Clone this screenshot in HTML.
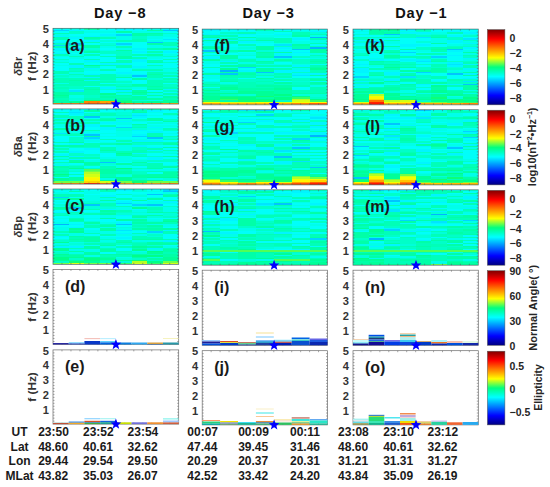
<!DOCTYPE html>
<html><head><meta charset="utf-8"><style>
html,body{margin:0;padding:0;background:#fff;width:550px;height:487px;overflow:hidden;}
body{position:relative;font-family:"Liberation Sans",sans-serif;}
</style></head><body>
<svg width="550" height="487" viewBox="0 0 550 487" style="position:absolute;left:0;top:0;font-family:"Liberation Sans",sans-serif">
<rect width="550" height="487" fill="#fff"/>
<defs><filter id="sb" x="-2%" y="-2%" width="104%" height="104%"><feGaussianBlur stdDeviation="0.3 0.45"/></filter></defs>
<g filter="url(#sb)"><svg x="53.0" y="28.3" width="125.69999999999999" height="75.75" viewBox="0 0 8 50" preserveAspectRatio="none" shape-rendering="crispEdges">
<path fill="#00c4ff" d="M1 10h1v1h-1zM5 31h1v1h-1zM6 9h1v1h-1zM7 1h1v1h-1z"/>
<path fill="#00d4ff" d="M0 1h1v1h-1zM0 11h1v1h-1zM1 13h1v1h-1zM4 4h1v1h-1zM4 10h1v1h-1z"/>
<path fill="#00e5ff" d="M1 41h1v1h-1zM7 7h1v1h-1z"/>
<path fill="#00f5ff" d="M0 5h1v1h-1zM0 9h1v1h-1zM0 13h1v2h-1zM0 16h1v1h-1zM1 1h1v1h-1zM1 6h1v1h-1zM1 24h1v2h-1zM2 5h1v1h-1zM2 8h1v1h-1zM2 21h1v1h-1zM2 26h1v1h-1zM2 30h1v1h-1zM2 32h1v1h-1zM2 34h1v1h-1zM3 4h1v1h-1zM3 23h1v1h-1zM3 39h1v1h-1zM4 0h1v1h-1zM4 11h1v1h-1zM4 23h1v1h-1zM4 29h1v1h-1zM4 41h1v1h-1zM5 0h1v1h-1zM5 13h1v1h-1zM5 15h1v1h-1zM5 20h1v2h-1zM5 25h1v1h-1zM5 30h1v1h-1zM7 0h1v1h-1zM7 15h1v1h-1zM7 40h1v1h-1z"/>
<path fill="#00fff9" d="M0 0h1v1h-1zM0 2h1v1h-1zM0 8h1v1h-1zM0 15h1v1h-1zM0 19h1v1h-1zM0 23h1v1h-1zM0 25h1v3h-1zM1 4h1v1h-1zM1 7h1v1h-1zM1 9h1v1h-1zM1 12h1v1h-1zM1 16h1v1h-1zM1 20h1v3h-1zM1 40h1v1h-1zM2 1h1v1h-1zM2 3h1v2h-1zM2 10h1v1h-1zM2 16h1v1h-1zM2 18h1v2h-1zM2 23h1v1h-1zM2 28h1v2h-1zM2 38h1v1h-1zM3 0h1v2h-1zM3 3h1v1h-1zM3 7h1v1h-1zM3 9h1v1h-1zM3 13h1v1h-1zM3 17h1v1h-1zM3 19h1v3h-1zM3 25h1v2h-1zM3 28h1v2h-1zM3 36h1v1h-1zM3 41h1v2h-1zM4 1h1v1h-1zM4 3h1v1h-1zM4 9h1v1h-1zM4 20h1v1h-1zM4 26h1v3h-1zM4 33h1v1h-1zM5 1h1v1h-1zM5 9h1v4h-1zM5 14h1v1h-1zM5 16h1v1h-1zM5 18h1v1h-1zM5 22h1v3h-1zM5 28h1v2h-1zM5 32h1v1h-1zM5 34h1v3h-1zM5 40h1v1h-1zM6 7h1v1h-1zM6 14h1v1h-1zM6 20h1v1h-1zM6 23h1v1h-1zM6 41h1v1h-1zM7 2h1v1h-1zM7 6h1v1h-1zM7 8h1v1h-1zM7 14h1v1h-1zM7 16h1v1h-1zM7 19h1v1h-1zM7 21h1v1h-1zM7 23h1v3h-1zM7 32h1v1h-1zM7 36h1v1h-1zM7 42h1v1h-1z"/>
<path fill="#00ffe9" d="M0 4h1v1h-1zM0 18h1v1h-1zM0 21h1v1h-1zM0 24h1v1h-1zM0 30h1v1h-1zM0 36h1v1h-1zM1 0h1v1h-1zM1 5h1v1h-1zM1 8h1v1h-1zM1 14h1v2h-1zM1 17h1v1h-1zM1 19h1v1h-1zM1 29h1v1h-1zM1 32h1v1h-1zM1 44h1v2h-1zM1 47h1v1h-1zM2 2h1v1h-1zM2 22h1v1h-1zM2 27h1v1h-1zM3 2h1v1h-1zM3 5h1v1h-1zM3 12h1v1h-1zM3 14h1v1h-1zM3 38h1v1h-1zM4 5h1v3h-1zM4 13h1v1h-1zM4 30h1v1h-1zM4 34h1v1h-1zM4 36h1v1h-1zM4 43h1v1h-1zM5 2h1v1h-1zM5 26h1v1h-1zM5 39h1v1h-1zM5 44h1v1h-1zM6 0h1v1h-1zM6 2h1v1h-1zM6 5h1v2h-1zM6 8h1v1h-1zM6 11h1v2h-1zM6 16h1v1h-1zM6 19h1v1h-1zM6 25h1v2h-1zM6 28h1v1h-1zM6 43h1v1h-1zM6 45h1v1h-1zM6 47h1v1h-1zM7 4h1v2h-1zM7 12h1v1h-1zM7 17h1v1h-1zM7 27h1v2h-1zM7 30h1v1h-1zM7 44h1v1h-1z"/>
<path fill="#00ffd9" d="M0 32h1v1h-1zM1 31h1v1h-1zM1 46h1v1h-1zM2 13h1v1h-1zM3 8h1v1h-1zM3 10h1v1h-1zM3 40h1v1h-1zM4 31h1v1h-1zM4 39h1v1h-1zM5 47h1v1h-1zM6 18h1v1h-1zM6 33h1v1h-1zM7 26h1v1h-1z"/>
<path fill="#00ffc8" d="M0 10h1v1h-1zM0 20h1v1h-1zM0 22h1v1h-1zM0 31h1v1h-1zM0 38h1v1h-1zM0 40h1v2h-1zM1 2h1v2h-1zM1 27h1v1h-1zM1 38h1v2h-1zM2 7h1v1h-1zM2 14h1v1h-1zM2 25h1v1h-1zM2 44h1v2h-1zM3 11h1v1h-1zM3 15h1v2h-1zM3 34h1v1h-1zM4 15h1v3h-1zM4 35h1v1h-1zM4 37h1v1h-1zM5 5h1v2h-1zM7 3h1v1h-1zM7 18h1v1h-1zM7 22h1v1h-1zM7 29h1v1h-1zM7 34h1v1h-1zM7 37h1v2h-1zM7 41h1v1h-1z"/>
<path fill="#00ffb8" d="M0 3h1v1h-1zM0 6h1v2h-1zM0 12h1v1h-1zM0 17h1v1h-1zM0 28h1v2h-1zM0 33h1v3h-1zM0 37h1v1h-1zM0 39h1v1h-1zM0 46h1v1h-1zM1 18h1v1h-1zM1 23h1v1h-1zM1 26h1v1h-1zM1 28h1v1h-1zM1 30h1v1h-1zM1 33h1v1h-1zM1 35h1v3h-1zM1 42h1v2h-1zM2 9h1v1h-1zM2 17h1v1h-1zM2 20h1v1h-1zM2 31h1v1h-1zM2 33h1v1h-1zM2 35h1v3h-1zM2 39h1v1h-1zM2 41h1v3h-1zM2 46h1v1h-1zM3 6h1v1h-1zM3 18h1v1h-1zM3 22h1v1h-1zM3 24h1v1h-1zM3 27h1v1h-1zM3 30h1v4h-1zM3 35h1v1h-1zM3 37h1v1h-1zM3 44h1v1h-1zM3 46h1v1h-1zM4 8h1v1h-1zM4 12h1v1h-1zM4 21h1v2h-1zM4 24h1v2h-1zM4 38h1v1h-1zM4 42h1v1h-1zM4 45h1v1h-1zM5 7h1v2h-1zM5 17h1v1h-1zM5 19h1v1h-1zM5 27h1v1h-1zM5 38h1v1h-1zM6 4h1v1h-1zM6 13h1v1h-1zM6 15h1v1h-1zM6 21h1v1h-1zM6 24h1v1h-1zM6 27h1v1h-1zM6 29h1v1h-1zM6 31h1v2h-1zM6 34h1v4h-1zM6 39h1v1h-1zM7 9h1v3h-1zM7 20h1v1h-1zM7 31h1v1h-1zM7 33h1v1h-1zM7 35h1v1h-1zM7 39h1v1h-1zM7 43h1v1h-1zM7 46h1v1h-1z"/>
<path fill="#00ffa8" d="M0 42h1v2h-1zM0 45h1v1h-1zM0 47h1v2h-1zM1 11h1v1h-1zM1 34h1v1h-1zM2 0h1v1h-1zM2 6h1v1h-1zM2 11h1v2h-1zM2 15h1v1h-1zM2 40h1v1h-1zM3 45h1v1h-1zM4 2h1v1h-1zM4 14h1v1h-1zM4 18h1v2h-1zM4 32h1v1h-1zM4 40h1v1h-1zM4 44h1v1h-1zM4 46h1v1h-1zM5 3h1v2h-1zM5 33h1v1h-1zM5 37h1v1h-1zM5 41h1v1h-1zM5 43h1v1h-1zM5 45h1v2h-1zM5 48h1v1h-1zM6 1h1v1h-1zM6 3h1v1h-1zM6 10h1v1h-1zM6 17h1v1h-1zM6 22h1v1h-1zM6 30h1v1h-1zM6 38h1v1h-1zM6 42h1v1h-1zM6 44h1v1h-1zM6 46h1v1h-1zM7 13h1v1h-1zM7 45h1v1h-1z"/>
<path fill="#00ff98" d="M0 44h1v1h-1zM1 48h1v1h-1zM2 24h1v1h-1zM3 43h1v1h-1zM4 47h1v1h-1zM5 42h1v1h-1zM6 40h1v1h-1zM6 48h1v1h-1zM7 47h1v2h-1z"/>
<path fill="#10ff77" d="M2 47h1v1h-1zM3 47h1v1h-1zM4 48h1v1h-1z"/>
<path fill="#ffa400" d="M3 48h1v1h-1zM7 49h1v1h-1z"/>
<path fill="#ff8400" d="M0 49h1v1h-1zM1 49h1v1h-1zM2 48h1v1h-1zM4 49h1v1h-1zM5 49h1v1h-1zM6 49h1v1h-1z"/>
<path fill="#ff5300" d="M2 49h1v1h-1zM3 49h1v1h-1z"/>
</svg></g>
<rect x="53.0" y="28.3" width="125.69999999999999" height="75.75" fill="none" stroke="#4a6a6a" stroke-width="0.7"/>
<path d="M53.0 31.33h1.5M178.7 31.33h-1.5M53.0 34.36h1.5M178.7 34.36h-1.5M53.0 37.39h1.5M178.7 37.39h-1.5M53.0 40.42h1.5M178.7 40.42h-1.5M53.0 43.45h1.5M178.7 43.45h-1.5M53.0 46.48h1.5M178.7 46.48h-1.5M53.0 49.51h1.5M178.7 49.51h-1.5M53.0 52.54h1.5M178.7 52.54h-1.5M53.0 55.57h1.5M178.7 55.57h-1.5M53.0 58.60h1.5M178.7 58.60h-1.5M53.0 61.63h1.5M178.7 61.63h-1.5M53.0 64.66h1.5M178.7 64.66h-1.5M53.0 67.69h1.5M178.7 67.69h-1.5M53.0 70.72h1.5M178.7 70.72h-1.5M53.0 73.75h1.5M178.7 73.75h-1.5M53.0 76.78h1.5M178.7 76.78h-1.5M53.0 79.81h1.5M178.7 79.81h-1.5M53.0 82.84h1.5M178.7 82.84h-1.5M53.0 85.87h1.5M178.7 85.87h-1.5M53.0 88.90h1.5M178.7 88.90h-1.5M53.0 91.93h1.5M178.7 91.93h-1.5M53.0 94.96h1.5M178.7 94.96h-1.5M53.0 97.99h1.5M178.7 97.99h-1.5M53.0 101.02h1.5M178.7 101.02h-1.5M61.98 28.3v1.5M61.98 104.05v-1.5M70.96 28.3v1.5M70.96 104.05v-1.5M79.94 28.3v1.5M79.94 104.05v-1.5M88.91 28.3v1.5M88.91 104.05v-1.5M97.89 28.3v1.5M97.89 104.05v-1.5M106.87 28.3v1.5M106.87 104.05v-1.5M115.85 28.3v1.5M115.85 104.05v-1.5M124.83 28.3v1.5M124.83 104.05v-1.5M133.81 28.3v1.5M133.81 104.05v-1.5M142.79 28.3v1.5M142.79 104.05v-1.5M151.76 28.3v1.5M151.76 104.05v-1.5M160.74 28.3v1.5M160.74 104.05v-1.5M169.72 28.3v1.5M169.72 104.05v-1.5" stroke="#4a6a6a" stroke-width="0.6" fill="none"/>
<g filter="url(#sb)"><svg x="53.0" y="108.9" width="125.69999999999999" height="75.19999999999999" viewBox="0 0 8 50" preserveAspectRatio="none" shape-rendering="crispEdges">
<path fill="#00c4ff" d="M2 5h1v1h-1zM2 17h1v1h-1zM3 35h1v1h-1zM4 6h1v1h-1zM6 19h1v1h-1z"/>
<path fill="#00d4ff" d="M2 19h1v1h-1zM4 12h1v1h-1zM5 18h1v1h-1z"/>
<path fill="#00e5ff" d="M0 16h1v1h-1zM1 2h1v1h-1zM1 8h1v1h-1zM5 4h1v1h-1z"/>
<path fill="#00f5ff" d="M0 6h1v1h-1zM0 30h1v1h-1zM0 37h1v1h-1zM1 1h1v1h-1zM1 3h1v1h-1zM1 10h1v1h-1zM1 14h1v1h-1zM1 23h1v1h-1zM1 28h1v1h-1zM1 31h1v1h-1zM1 33h1v1h-1zM2 0h1v1h-1zM2 10h1v2h-1zM2 16h1v1h-1zM2 20h1v1h-1zM2 26h1v1h-1zM3 9h1v1h-1zM3 12h1v2h-1zM4 8h1v1h-1zM5 3h1v1h-1zM5 5h1v1h-1zM5 14h1v1h-1zM5 17h1v1h-1zM5 21h1v1h-1zM5 24h1v1h-1zM5 29h1v1h-1zM6 1h1v1h-1zM6 12h1v1h-1zM6 15h1v1h-1zM6 21h1v1h-1zM6 25h1v1h-1zM6 27h1v1h-1zM6 32h1v2h-1z"/>
<path fill="#00fff9" d="M0 0h1v2h-1zM0 3h1v1h-1zM0 12h1v1h-1zM0 18h1v4h-1zM0 23h1v1h-1zM0 29h1v1h-1zM0 34h1v1h-1zM0 45h1v1h-1zM1 0h1v1h-1zM1 4h1v1h-1zM1 12h1v1h-1zM1 18h1v1h-1zM1 26h1v2h-1zM1 36h1v1h-1zM1 42h1v1h-1zM1 44h1v1h-1zM2 2h1v1h-1zM2 6h1v1h-1zM2 12h1v2h-1zM2 22h1v1h-1zM2 27h1v3h-1zM2 33h1v1h-1zM2 38h1v1h-1zM3 1h1v1h-1zM3 10h1v1h-1zM3 14h1v2h-1zM3 17h1v1h-1zM3 19h1v1h-1zM3 21h1v1h-1zM3 24h1v1h-1zM3 29h1v3h-1zM4 11h1v1h-1zM4 19h1v1h-1zM4 35h1v1h-1zM5 0h1v1h-1zM5 6h1v1h-1zM5 9h1v1h-1zM5 15h1v2h-1zM5 19h1v1h-1zM5 32h1v1h-1zM5 38h1v1h-1zM6 3h1v1h-1zM6 5h1v1h-1zM6 8h1v1h-1zM6 10h1v1h-1zM6 14h1v1h-1zM6 20h1v1h-1zM6 24h1v1h-1zM6 29h1v2h-1zM6 35h1v1h-1zM6 42h1v1h-1zM7 1h1v2h-1zM7 5h1v2h-1zM7 10h1v1h-1zM7 12h1v1h-1zM7 15h1v1h-1zM7 17h1v1h-1zM7 21h1v1h-1zM7 24h1v1h-1zM7 26h1v1h-1zM7 30h1v1h-1zM7 32h1v1h-1zM7 35h1v2h-1zM7 39h1v1h-1z"/>
<path fill="#00ffe9" d="M0 8h1v1h-1zM0 10h1v2h-1zM0 14h1v2h-1zM0 25h1v1h-1zM0 27h1v1h-1zM0 32h1v1h-1zM0 36h1v1h-1zM1 15h1v1h-1zM2 8h1v1h-1zM2 15h1v1h-1zM2 21h1v1h-1zM2 34h1v1h-1zM3 0h1v1h-1zM3 5h1v1h-1zM3 8h1v1h-1zM3 16h1v1h-1zM3 18h1v1h-1zM3 22h1v1h-1zM3 32h1v1h-1zM3 37h1v1h-1zM3 46h1v1h-1zM4 1h1v1h-1zM4 7h1v1h-1zM4 9h1v2h-1zM4 15h1v4h-1zM4 20h1v1h-1zM4 22h1v1h-1zM4 24h1v4h-1zM4 31h1v4h-1zM4 37h1v2h-1zM4 44h1v1h-1zM5 8h1v1h-1zM5 20h1v1h-1zM5 33h1v1h-1zM5 40h1v1h-1zM6 2h1v1h-1zM6 4h1v1h-1zM6 11h1v1h-1zM6 13h1v1h-1zM6 40h1v1h-1zM6 46h1v1h-1zM7 4h1v1h-1zM7 9h1v1h-1zM7 11h1v1h-1zM7 16h1v1h-1zM7 28h1v1h-1zM7 37h1v1h-1zM7 40h1v1h-1zM7 47h1v1h-1z"/>
<path fill="#00ffd9" d="M1 13h1v1h-1zM1 37h1v1h-1zM1 40h1v1h-1zM2 31h1v1h-1zM3 2h1v1h-1zM3 36h1v1h-1zM4 2h1v2h-1zM4 5h1v1h-1zM4 13h1v2h-1zM4 43h1v1h-1zM5 13h1v1h-1zM5 34h1v1h-1zM6 9h1v1h-1zM7 19h1v1h-1zM7 29h1v1h-1zM7 46h1v1h-1z"/>
<path fill="#00ffc8" d="M0 17h1v1h-1zM1 7h1v1h-1zM1 16h1v1h-1zM1 19h1v3h-1zM1 25h1v1h-1zM1 29h1v2h-1zM1 41h1v1h-1zM2 3h1v1h-1zM2 25h1v1h-1zM2 30h1v1h-1zM2 39h1v1h-1zM3 28h1v1h-1zM3 33h1v2h-1zM4 4h1v1h-1zM5 7h1v1h-1zM5 11h1v1h-1zM5 23h1v1h-1zM5 25h1v2h-1zM5 30h1v1h-1zM5 36h1v1h-1zM5 39h1v1h-1zM5 41h1v2h-1zM5 46h1v1h-1zM6 23h1v1h-1zM6 28h1v1h-1zM6 31h1v1h-1zM6 34h1v1h-1zM7 7h1v1h-1zM7 14h1v1h-1zM7 33h1v2h-1z"/>
<path fill="#00ffb8" d="M0 2h1v1h-1zM0 4h1v2h-1zM0 7h1v1h-1zM0 9h1v1h-1zM0 22h1v1h-1zM0 26h1v1h-1zM0 28h1v1h-1zM0 33h1v1h-1zM0 35h1v1h-1zM0 39h1v2h-1zM0 42h1v1h-1zM1 5h1v2h-1zM1 11h1v1h-1zM1 17h1v1h-1zM1 32h1v1h-1zM1 38h1v1h-1zM1 43h1v1h-1zM1 47h1v1h-1zM2 4h1v1h-1zM2 7h1v1h-1zM2 9h1v1h-1zM2 14h1v1h-1zM2 23h1v2h-1zM2 32h1v1h-1zM2 37h1v1h-1zM3 3h1v2h-1zM3 6h1v1h-1zM3 11h1v1h-1zM3 20h1v1h-1zM3 23h1v1h-1zM3 25h1v2h-1zM3 38h1v2h-1zM3 43h1v2h-1zM4 21h1v1h-1zM4 28h1v1h-1zM4 40h1v1h-1zM5 1h1v1h-1zM5 12h1v1h-1zM5 22h1v1h-1zM5 27h1v2h-1zM5 31h1v1h-1zM5 37h1v1h-1zM5 43h1v1h-1zM6 0h1v1h-1zM6 16h1v2h-1zM6 22h1v1h-1zM6 26h1v1h-1zM6 36h1v3h-1zM6 41h1v1h-1zM7 3h1v1h-1zM7 13h1v1h-1zM7 18h1v1h-1zM7 20h1v1h-1zM7 22h1v1h-1zM7 27h1v1h-1zM7 41h1v1h-1z"/>
<path fill="#00ffa8" d="M0 13h1v1h-1zM0 24h1v1h-1zM0 31h1v1h-1zM0 38h1v1h-1zM0 41h1v1h-1zM0 44h1v1h-1zM0 47h1v1h-1zM1 9h1v1h-1zM1 22h1v1h-1zM1 24h1v1h-1zM1 34h1v1h-1zM1 45h1v2h-1zM2 1h1v1h-1zM2 18h1v1h-1zM2 35h1v2h-1zM3 7h1v1h-1zM3 27h1v1h-1zM3 40h1v3h-1zM3 45h1v1h-1zM4 0h1v1h-1zM4 23h1v1h-1zM4 30h1v1h-1zM4 36h1v1h-1zM4 41h1v2h-1zM5 2h1v1h-1zM5 10h1v1h-1zM5 35h1v1h-1zM5 44h1v2h-1zM6 6h1v2h-1zM6 18h1v1h-1zM6 39h1v1h-1zM6 43h1v2h-1zM7 0h1v1h-1zM7 8h1v1h-1zM7 23h1v1h-1zM7 25h1v1h-1zM7 31h1v1h-1zM7 38h1v1h-1zM7 42h1v3h-1z"/>
<path fill="#00ff98" d="M0 46h1v1h-1zM1 35h1v1h-1zM1 39h1v1h-1zM3 47h1v1h-1zM4 29h1v1h-1zM4 45h1v3h-1zM5 47h1v1h-1zM6 45h1v1h-1zM6 47h1v1h-1zM7 45h1v1h-1z"/>
<path fill="#00ff88" d="M0 43h1v1h-1zM4 39h1v1h-1z"/>
<path fill="#10ff77" d="M5 48h1v1h-1z"/>
<path fill="#51ff57" d="M2 40h1v1h-1z"/>
<path fill="#71ff47" d="M0 48h1v1h-1zM1 48h1v1h-1zM2 41h1v1h-1zM4 48h1v1h-1zM6 48h1v1h-1zM7 48h1v1h-1z"/>
<path fill="#b2ff26" d="M2 42h1v1h-1z"/>
<path fill="#d2ff16" d="M2 43h1v2h-1zM3 48h1v1h-1z"/>
<path fill="#f3ff06" d="M2 45h1v1h-1z"/>
<path fill="#fff500" d="M2 46h1v2h-1z"/>
<path fill="#ffd500" d="M2 48h1v1h-1z"/>
<path fill="#ffa400" d="M4 49h1v1h-1zM5 49h1v1h-1zM6 49h1v1h-1z"/>
<path fill="#ff8400" d="M0 49h1v1h-1zM1 49h1v1h-1zM7 49h1v1h-1z"/>
<path fill="#ff7300" d="M3 49h1v1h-1z"/>
<path fill="#ff2200" d="M2 49h1v1h-1z"/>
</svg></g>
<rect x="53.0" y="108.9" width="125.69999999999999" height="75.19999999999999" fill="none" stroke="#4a6a6a" stroke-width="0.7"/>
<path d="M53.0 111.91h1.5M178.7 111.91h-1.5M53.0 114.92h1.5M178.7 114.92h-1.5M53.0 117.92h1.5M178.7 117.92h-1.5M53.0 120.93h1.5M178.7 120.93h-1.5M53.0 123.94h1.5M178.7 123.94h-1.5M53.0 126.95h1.5M178.7 126.95h-1.5M53.0 129.96h1.5M178.7 129.96h-1.5M53.0 132.96h1.5M178.7 132.96h-1.5M53.0 135.97h1.5M178.7 135.97h-1.5M53.0 138.98h1.5M178.7 138.98h-1.5M53.0 141.99h1.5M178.7 141.99h-1.5M53.0 145.00h1.5M178.7 145.00h-1.5M53.0 148.00h1.5M178.7 148.00h-1.5M53.0 151.01h1.5M178.7 151.01h-1.5M53.0 154.02h1.5M178.7 154.02h-1.5M53.0 157.03h1.5M178.7 157.03h-1.5M53.0 160.04h1.5M178.7 160.04h-1.5M53.0 163.04h1.5M178.7 163.04h-1.5M53.0 166.05h1.5M178.7 166.05h-1.5M53.0 169.06h1.5M178.7 169.06h-1.5M53.0 172.07h1.5M178.7 172.07h-1.5M53.0 175.08h1.5M178.7 175.08h-1.5M53.0 178.08h1.5M178.7 178.08h-1.5M53.0 181.09h1.5M178.7 181.09h-1.5M61.98 108.9v1.5M61.98 184.1v-1.5M70.96 108.9v1.5M70.96 184.1v-1.5M79.94 108.9v1.5M79.94 184.1v-1.5M88.91 108.9v1.5M88.91 184.1v-1.5M97.89 108.9v1.5M97.89 184.1v-1.5M106.87 108.9v1.5M106.87 184.1v-1.5M115.85 108.9v1.5M115.85 184.1v-1.5M124.83 108.9v1.5M124.83 184.1v-1.5M133.81 108.9v1.5M133.81 184.1v-1.5M142.79 108.9v1.5M142.79 184.1v-1.5M151.76 108.9v1.5M151.76 184.1v-1.5M160.74 108.9v1.5M160.74 184.1v-1.5M169.72 108.9v1.5M169.72 184.1v-1.5" stroke="#4a6a6a" stroke-width="0.6" fill="none"/>
<g filter="url(#sb)"><svg x="53.0" y="189.0" width="125.69999999999999" height="75.39999999999998" viewBox="0 0 8 50" preserveAspectRatio="none" shape-rendering="crispEdges">
<path fill="#00b4ff" d="M0 23h1v1h-1z"/>
<path fill="#00c4ff" d="M1 12h1v1h-1zM2 10h1v1h-1zM4 23h1v1h-1zM6 3h1v1h-1zM6 10h1v1h-1zM7 1h1v1h-1z"/>
<path fill="#00d4ff" d="M0 5h1v1h-1zM4 9h1v1h-1zM5 10h1v1h-1zM6 28h1v1h-1zM7 0h1v1h-1z"/>
<path fill="#00e5ff" d="M4 27h1v1h-1z"/>
<path fill="#00f5ff" d="M0 15h1v1h-1zM0 31h1v1h-1zM0 38h1v1h-1zM1 14h1v1h-1zM1 23h1v1h-1zM1 25h1v1h-1zM1 38h1v1h-1zM3 4h1v1h-1zM3 13h1v1h-1zM4 0h1v1h-1zM4 8h1v1h-1zM4 17h1v1h-1zM4 22h1v1h-1zM4 29h1v1h-1zM4 32h1v1h-1zM6 39h1v1h-1zM7 8h1v1h-1zM7 27h1v1h-1zM7 34h1v1h-1z"/>
<path fill="#00fff9" d="M0 1h1v1h-1zM0 7h1v1h-1zM0 9h1v1h-1zM0 14h1v1h-1zM0 18h1v1h-1zM0 20h1v2h-1zM0 24h1v1h-1zM0 32h1v1h-1zM1 2h1v1h-1zM1 5h1v1h-1zM1 22h1v1h-1zM1 24h1v1h-1zM2 0h1v1h-1zM2 3h1v1h-1zM2 14h1v1h-1zM2 17h1v2h-1zM2 20h1v1h-1zM2 26h1v1h-1zM2 30h1v1h-1zM2 37h1v1h-1zM3 2h1v2h-1zM3 20h1v2h-1zM3 31h1v1h-1zM3 42h1v1h-1zM4 1h1v2h-1zM4 4h1v2h-1zM4 7h1v1h-1zM4 10h1v1h-1zM4 18h1v2h-1zM4 21h1v1h-1zM4 24h1v1h-1zM4 28h1v1h-1zM4 31h1v1h-1zM4 33h1v1h-1zM4 37h1v1h-1zM4 39h1v2h-1zM5 2h1v1h-1zM5 5h1v1h-1zM5 8h1v1h-1zM5 13h1v1h-1zM5 28h1v1h-1zM6 0h1v1h-1zM6 2h1v1h-1zM6 4h1v1h-1zM6 7h1v1h-1zM6 19h1v1h-1zM7 5h1v2h-1zM7 10h1v1h-1zM7 19h1v1h-1zM7 25h1v1h-1zM7 30h1v3h-1zM7 37h1v1h-1z"/>
<path fill="#00ffe9" d="M0 0h1v1h-1zM0 2h1v1h-1zM0 8h1v1h-1zM0 11h1v1h-1zM0 19h1v1h-1zM0 22h1v1h-1zM0 25h1v3h-1zM0 29h1v1h-1zM0 36h1v1h-1zM1 0h1v1h-1zM1 7h1v1h-1zM1 13h1v1h-1zM1 17h1v2h-1zM1 29h1v2h-1zM1 35h1v1h-1zM1 37h1v1h-1zM1 40h1v1h-1zM1 42h1v1h-1zM2 1h1v2h-1zM2 4h1v4h-1zM2 15h1v1h-1zM2 19h1v1h-1zM2 27h1v2h-1zM2 40h1v2h-1zM2 44h1v1h-1zM3 6h1v1h-1zM3 8h1v1h-1zM3 17h1v2h-1zM3 22h1v1h-1zM3 25h1v1h-1zM3 28h1v2h-1zM3 32h1v1h-1zM3 34h1v1h-1zM3 38h1v1h-1zM4 12h1v2h-1zM4 26h1v1h-1zM4 30h1v1h-1zM4 45h1v1h-1zM5 3h1v1h-1zM5 6h1v1h-1zM5 9h1v1h-1zM5 11h1v1h-1zM5 14h1v1h-1zM5 16h1v1h-1zM5 19h1v1h-1zM5 27h1v1h-1zM5 30h1v1h-1zM5 34h1v1h-1zM5 41h1v1h-1zM6 1h1v1h-1zM6 5h1v1h-1zM6 8h1v2h-1zM6 11h1v1h-1zM6 16h1v1h-1zM6 20h1v1h-1zM6 23h1v1h-1zM6 29h1v1h-1zM6 34h1v1h-1zM6 40h1v1h-1zM7 2h1v1h-1zM7 9h1v1h-1zM7 12h1v3h-1zM7 23h1v2h-1zM7 38h1v1h-1z"/>
<path fill="#00ffd9" d="M0 10h1v1h-1zM0 33h1v1h-1zM0 41h1v1h-1zM1 8h1v1h-1zM1 36h1v1h-1zM2 8h1v1h-1zM2 11h1v2h-1zM2 21h1v1h-1zM2 23h1v1h-1zM2 35h1v1h-1zM3 12h1v1h-1zM3 35h1v1h-1zM4 16h1v1h-1zM4 25h1v1h-1zM4 46h1v1h-1zM4 48h1v1h-1zM5 0h1v2h-1zM5 4h1v1h-1zM5 15h1v1h-1zM5 42h1v1h-1zM6 18h1v1h-1zM6 21h1v1h-1zM6 31h1v1h-1zM6 37h1v1h-1zM6 45h1v1h-1zM7 16h1v2h-1z"/>
<path fill="#00ffc8" d="M0 16h1v1h-1zM0 34h1v1h-1zM0 37h1v1h-1zM0 42h1v1h-1zM0 48h1v1h-1zM1 16h1v1h-1zM1 46h1v1h-1zM3 11h1v1h-1zM3 33h1v1h-1zM3 48h1v1h-1zM4 3h1v1h-1zM4 15h1v1h-1zM4 36h1v1h-1zM4 42h1v1h-1zM5 23h1v1h-1zM5 25h1v1h-1zM5 35h1v1h-1zM5 46h1v1h-1zM6 14h1v1h-1zM6 30h1v1h-1zM6 47h1v1h-1zM7 11h1v1h-1zM7 18h1v1h-1z"/>
<path fill="#00ffb8" d="M0 3h1v2h-1zM0 6h1v1h-1zM0 13h1v1h-1zM0 17h1v1h-1zM0 28h1v1h-1zM0 30h1v1h-1zM1 3h1v2h-1zM1 10h1v2h-1zM1 15h1v1h-1zM1 19h1v1h-1zM1 21h1v1h-1zM1 32h1v1h-1zM1 34h1v1h-1zM1 39h1v1h-1zM1 43h1v1h-1zM2 9h1v1h-1zM2 13h1v1h-1zM2 16h1v1h-1zM2 24h1v2h-1zM2 29h1v1h-1zM2 31h1v1h-1zM2 36h1v1h-1zM3 0h1v2h-1zM3 5h1v1h-1zM3 9h1v2h-1zM3 15h1v1h-1zM3 23h1v1h-1zM3 30h1v1h-1zM3 36h1v1h-1zM3 39h1v1h-1zM3 44h1v1h-1zM3 47h1v1h-1zM4 6h1v1h-1zM4 11h1v1h-1zM4 14h1v1h-1zM4 34h1v1h-1zM4 38h1v1h-1zM4 41h1v1h-1zM4 44h1v1h-1zM5 17h1v1h-1zM5 21h1v1h-1zM5 24h1v1h-1zM5 29h1v1h-1zM5 31h1v2h-1zM5 36h1v2h-1zM5 39h1v1h-1zM6 12h1v2h-1zM6 25h1v1h-1zM6 27h1v1h-1zM6 32h1v1h-1zM6 43h1v1h-1zM7 3h1v1h-1zM7 7h1v1h-1zM7 15h1v1h-1zM7 22h1v1h-1zM7 28h1v2h-1zM7 33h1v1h-1zM7 35h1v1h-1zM7 39h1v1h-1zM7 42h1v1h-1z"/>
<path fill="#00ffa8" d="M0 12h1v1h-1zM0 44h1v1h-1zM1 1h1v1h-1zM1 9h1v1h-1zM1 20h1v1h-1zM1 27h1v1h-1zM1 31h1v1h-1zM1 33h1v1h-1zM1 41h1v1h-1zM1 44h1v1h-1zM1 47h1v1h-1zM2 22h1v1h-1zM2 32h1v3h-1zM2 38h1v2h-1zM2 42h1v2h-1zM3 7h1v1h-1zM3 14h1v1h-1zM3 16h1v1h-1zM3 19h1v1h-1zM3 24h1v1h-1zM3 26h1v2h-1zM3 37h1v1h-1zM3 40h1v2h-1zM3 43h1v1h-1zM3 45h1v1h-1zM4 20h1v1h-1zM4 35h1v1h-1zM4 43h1v1h-1zM5 7h1v1h-1zM5 18h1v1h-1zM5 20h1v1h-1zM5 22h1v1h-1zM5 26h1v1h-1zM5 33h1v1h-1zM5 43h1v1h-1zM5 45h1v1h-1zM6 6h1v1h-1zM6 15h1v1h-1zM6 17h1v1h-1zM6 22h1v1h-1zM6 24h1v1h-1zM6 26h1v1h-1zM6 33h1v1h-1zM6 35h1v2h-1zM6 38h1v1h-1zM6 46h1v1h-1zM7 4h1v1h-1zM7 20h1v1h-1zM7 26h1v1h-1zM7 36h1v1h-1zM7 40h1v2h-1zM7 43h1v2h-1z"/>
<path fill="#00ff98" d="M0 35h1v1h-1zM0 39h1v2h-1zM0 43h1v1h-1zM0 47h1v1h-1zM1 6h1v1h-1zM1 26h1v1h-1zM1 28h1v1h-1zM1 45h1v1h-1zM2 45h1v1h-1zM2 48h1v1h-1zM3 46h1v1h-1zM4 47h1v1h-1zM5 12h1v1h-1zM5 38h1v1h-1zM5 40h1v1h-1zM6 42h1v1h-1zM7 21h1v1h-1zM7 45h1v3h-1z"/>
<path fill="#00ff88" d="M0 45h1v2h-1zM2 46h1v2h-1zM5 44h1v1h-1zM6 41h1v1h-1zM6 44h1v1h-1zM6 48h1v1h-1z"/>
<path fill="#10ff77" d="M1 48h1v1h-1zM5 47h1v1h-1z"/>
<path fill="#31ff67" d="M4 49h1v1h-1zM6 49h1v1h-1z"/>
<path fill="#71ff47" d="M0 49h1v1h-1zM2 49h1v1h-1zM3 49h1v1h-1zM7 48h1v1h-1z"/>
<path fill="#b2ff26" d="M5 48h1v1h-1z"/>
<path fill="#d2ff16" d="M1 49h1v1h-1zM5 49h1v1h-1zM7 49h1v1h-1z"/>
</svg></g>
<rect x="53.0" y="189.0" width="125.69999999999999" height="75.39999999999998" fill="none" stroke="#4a6a6a" stroke-width="0.7"/>
<path d="M53.0 192.02h1.5M178.7 192.02h-1.5M53.0 195.03h1.5M178.7 195.03h-1.5M53.0 198.05h1.5M178.7 198.05h-1.5M53.0 201.06h1.5M178.7 201.06h-1.5M53.0 204.08h1.5M178.7 204.08h-1.5M53.0 207.10h1.5M178.7 207.10h-1.5M53.0 210.11h1.5M178.7 210.11h-1.5M53.0 213.13h1.5M178.7 213.13h-1.5M53.0 216.14h1.5M178.7 216.14h-1.5M53.0 219.16h1.5M178.7 219.16h-1.5M53.0 222.18h1.5M178.7 222.18h-1.5M53.0 225.19h1.5M178.7 225.19h-1.5M53.0 228.21h1.5M178.7 228.21h-1.5M53.0 231.22h1.5M178.7 231.22h-1.5M53.0 234.24h1.5M178.7 234.24h-1.5M53.0 237.26h1.5M178.7 237.26h-1.5M53.0 240.27h1.5M178.7 240.27h-1.5M53.0 243.29h1.5M178.7 243.29h-1.5M53.0 246.30h1.5M178.7 246.30h-1.5M53.0 249.32h1.5M178.7 249.32h-1.5M53.0 252.34h1.5M178.7 252.34h-1.5M53.0 255.35h1.5M178.7 255.35h-1.5M53.0 258.37h1.5M178.7 258.37h-1.5M53.0 261.38h1.5M178.7 261.38h-1.5M61.98 189.0v1.5M61.98 264.4v-1.5M70.96 189.0v1.5M70.96 264.4v-1.5M79.94 189.0v1.5M79.94 264.4v-1.5M88.91 189.0v1.5M88.91 264.4v-1.5M97.89 189.0v1.5M97.89 264.4v-1.5M106.87 189.0v1.5M106.87 264.4v-1.5M115.85 189.0v1.5M115.85 264.4v-1.5M124.83 189.0v1.5M124.83 264.4v-1.5M133.81 189.0v1.5M133.81 264.4v-1.5M142.79 189.0v1.5M142.79 264.4v-1.5M151.76 189.0v1.5M151.76 264.4v-1.5M160.74 189.0v1.5M160.74 264.4v-1.5M169.72 189.0v1.5M169.72 264.4v-1.5" stroke="#4a6a6a" stroke-width="0.6" fill="none"/>
<rect x="53.0" y="269.4" width="125.69999999999999" height="75.10000000000002" fill="none" stroke="#6a6a6a" stroke-width="0.7"/>
<path d="M53.0 272.40h1.5M178.7 272.40h-1.5M53.0 275.41h1.5M178.7 275.41h-1.5M53.0 278.41h1.5M178.7 278.41h-1.5M53.0 281.42h1.5M178.7 281.42h-1.5M53.0 284.42h1.5M178.7 284.42h-1.5M53.0 287.42h1.5M178.7 287.42h-1.5M53.0 290.43h1.5M178.7 290.43h-1.5M53.0 293.43h1.5M178.7 293.43h-1.5M53.0 296.44h1.5M178.7 296.44h-1.5M53.0 299.44h1.5M178.7 299.44h-1.5M53.0 302.44h1.5M178.7 302.44h-1.5M53.0 305.45h1.5M178.7 305.45h-1.5M53.0 308.45h1.5M178.7 308.45h-1.5M53.0 311.46h1.5M178.7 311.46h-1.5M53.0 314.46h1.5M178.7 314.46h-1.5M53.0 317.46h1.5M178.7 317.46h-1.5M53.0 320.47h1.5M178.7 320.47h-1.5M53.0 323.47h1.5M178.7 323.47h-1.5M53.0 326.48h1.5M178.7 326.48h-1.5M53.0 329.48h1.5M178.7 329.48h-1.5M53.0 332.48h1.5M178.7 332.48h-1.5M53.0 335.49h1.5M178.7 335.49h-1.5M53.0 338.49h1.5M178.7 338.49h-1.5M53.0 341.50h1.5M178.7 341.50h-1.5M61.98 269.4v1.5M61.98 344.5v-1.5M70.96 269.4v1.5M70.96 344.5v-1.5M79.94 269.4v1.5M79.94 344.5v-1.5M88.91 269.4v1.5M88.91 344.5v-1.5M97.89 269.4v1.5M97.89 344.5v-1.5M106.87 269.4v1.5M106.87 344.5v-1.5M115.85 269.4v1.5M115.85 344.5v-1.5M124.83 269.4v1.5M124.83 344.5v-1.5M133.81 269.4v1.5M133.81 344.5v-1.5M142.79 269.4v1.5M142.79 344.5v-1.5M151.76 269.4v1.5M151.76 344.5v-1.5M160.74 269.4v1.5M160.74 344.5v-1.5M169.72 269.4v1.5M169.72 344.5v-1.5" stroke="#6a6a6a" stroke-width="0.6" fill="none"/>
<rect x="53.0" y="349.9" width="125.69999999999999" height="74.20000000000005" fill="none" stroke="#6a6a6a" stroke-width="0.7"/>
<path d="M53.0 352.87h1.5M178.7 352.87h-1.5M53.0 355.84h1.5M178.7 355.84h-1.5M53.0 358.80h1.5M178.7 358.80h-1.5M53.0 361.77h1.5M178.7 361.77h-1.5M53.0 364.74h1.5M178.7 364.74h-1.5M53.0 367.71h1.5M178.7 367.71h-1.5M53.0 370.68h1.5M178.7 370.68h-1.5M53.0 373.64h1.5M178.7 373.64h-1.5M53.0 376.61h1.5M178.7 376.61h-1.5M53.0 379.58h1.5M178.7 379.58h-1.5M53.0 382.55h1.5M178.7 382.55h-1.5M53.0 385.52h1.5M178.7 385.52h-1.5M53.0 388.48h1.5M178.7 388.48h-1.5M53.0 391.45h1.5M178.7 391.45h-1.5M53.0 394.42h1.5M178.7 394.42h-1.5M53.0 397.39h1.5M178.7 397.39h-1.5M53.0 400.36h1.5M178.7 400.36h-1.5M53.0 403.32h1.5M178.7 403.32h-1.5M53.0 406.29h1.5M178.7 406.29h-1.5M53.0 409.26h1.5M178.7 409.26h-1.5M53.0 412.23h1.5M178.7 412.23h-1.5M53.0 415.20h1.5M178.7 415.20h-1.5M53.0 418.16h1.5M178.7 418.16h-1.5M53.0 421.13h1.5M178.7 421.13h-1.5M61.98 349.9v1.5M61.98 424.1v-1.5M70.96 349.9v1.5M70.96 424.1v-1.5M79.94 349.9v1.5M79.94 424.1v-1.5M88.91 349.9v1.5M88.91 424.1v-1.5M97.89 349.9v1.5M97.89 424.1v-1.5M106.87 349.9v1.5M106.87 424.1v-1.5M115.85 349.9v1.5M115.85 424.1v-1.5M124.83 349.9v1.5M124.83 424.1v-1.5M133.81 349.9v1.5M133.81 424.1v-1.5M142.79 349.9v1.5M142.79 424.1v-1.5M151.76 349.9v1.5M151.76 424.1v-1.5M160.74 349.9v1.5M160.74 424.1v-1.5M169.72 349.9v1.5M169.72 424.1v-1.5" stroke="#6a6a6a" stroke-width="0.6" fill="none"/>
<g filter="url(#sb)"><svg x="202.2" y="29.1" width="125.30000000000001" height="75.75" viewBox="0 0 7 50" preserveAspectRatio="none" shape-rendering="crispEdges">
<path fill="#00b4ff" d="M1 27h1v1h-1zM6 5h1v1h-1zM6 12h1v1h-1z"/>
<path fill="#00c4ff" d="M0 14h1v1h-1zM1 29h1v1h-1zM3 28h1v1h-1zM4 18h1v1h-1zM5 13h1v1h-1z"/>
<path fill="#00d4ff" d="M2 25h1v1h-1z"/>
<path fill="#00e5ff" d="M4 10h1v1h-1zM5 30h1v1h-1z"/>
<path fill="#00f5ff" d="M0 0h1v1h-1zM0 3h1v1h-1zM0 6h1v1h-1zM0 18h1v2h-1zM0 30h1v1h-1zM1 7h1v1h-1zM1 21h1v1h-1zM2 3h1v1h-1zM2 8h1v1h-1zM2 27h1v1h-1zM4 3h1v1h-1zM4 12h1v1h-1zM4 14h1v1h-1zM4 16h1v1h-1zM4 27h1v2h-1zM5 6h1v1h-1zM5 15h1v1h-1zM5 24h1v1h-1zM5 27h1v1h-1zM5 29h1v1h-1zM6 1h1v1h-1zM6 29h1v1h-1z"/>
<path fill="#00fff9" d="M0 1h1v2h-1zM0 9h1v2h-1zM0 16h1v1h-1zM0 23h1v2h-1zM0 26h1v2h-1zM0 33h1v1h-1zM0 38h1v1h-1zM1 0h1v2h-1zM1 10h1v2h-1zM1 16h1v1h-1zM1 23h1v1h-1zM2 0h1v2h-1zM2 4h1v1h-1zM2 9h1v1h-1zM2 15h1v1h-1zM2 18h1v1h-1zM2 26h1v1h-1zM2 32h1v1h-1zM3 3h1v1h-1zM3 9h1v2h-1zM3 25h1v1h-1zM4 0h1v1h-1zM4 2h1v1h-1zM4 5h1v1h-1zM4 13h1v1h-1zM4 22h1v1h-1zM4 25h1v1h-1zM4 34h1v1h-1zM5 0h1v1h-1zM5 5h1v1h-1zM5 7h1v1h-1zM5 14h1v1h-1zM5 16h1v2h-1zM5 19h1v1h-1zM5 31h1v1h-1zM5 38h1v2h-1zM6 0h1v1h-1zM6 10h1v1h-1zM6 23h1v1h-1zM6 31h1v1h-1zM6 34h1v1h-1z"/>
<path fill="#00ffe9" d="M0 8h1v1h-1zM0 13h1v1h-1zM0 21h1v2h-1zM0 28h1v1h-1zM0 31h1v2h-1zM0 34h1v1h-1zM1 3h1v1h-1zM1 5h1v1h-1zM1 12h1v2h-1zM1 25h1v1h-1zM1 35h1v1h-1zM2 6h1v1h-1zM2 11h1v1h-1zM2 13h1v1h-1zM2 16h1v1h-1zM2 19h1v1h-1zM2 22h1v1h-1zM3 1h1v2h-1zM3 4h1v1h-1zM3 8h1v1h-1zM3 19h1v2h-1zM3 23h1v1h-1zM3 31h1v1h-1zM4 4h1v1h-1zM4 9h1v1h-1zM4 17h1v1h-1zM4 19h1v1h-1zM4 23h1v1h-1zM4 32h1v1h-1zM5 1h1v1h-1zM5 8h1v2h-1zM5 23h1v1h-1zM5 26h1v1h-1zM6 4h1v1h-1zM6 7h1v2h-1zM6 16h1v1h-1zM6 19h1v1h-1zM6 37h1v1h-1z"/>
<path fill="#00ffd9" d="M1 15h1v1h-1zM1 20h1v1h-1zM1 40h1v1h-1zM2 12h1v1h-1zM2 17h1v1h-1zM2 43h1v1h-1zM3 5h1v1h-1zM3 14h1v1h-1zM3 29h1v1h-1zM5 34h1v1h-1zM5 43h1v1h-1zM6 2h1v1h-1zM6 18h1v1h-1zM6 43h1v2h-1z"/>
<path fill="#00ffc8" d="M0 17h1v1h-1zM0 35h1v1h-1zM1 2h1v1h-1zM1 32h1v1h-1zM1 36h1v1h-1zM1 41h1v1h-1zM1 43h1v1h-1zM2 7h1v1h-1zM2 33h1v2h-1zM3 6h1v1h-1zM3 33h1v1h-1zM3 35h1v1h-1zM4 11h1v1h-1zM4 21h1v1h-1zM4 30h1v1h-1zM4 36h1v1h-1zM4 47h1v1h-1zM5 18h1v1h-1zM5 20h1v3h-1zM5 28h1v1h-1zM5 32h1v2h-1zM5 35h1v2h-1zM6 45h1v1h-1z"/>
<path fill="#00ffb8" d="M0 4h1v1h-1zM0 11h1v1h-1zM0 15h1v1h-1zM0 25h1v1h-1zM0 37h1v1h-1zM0 39h1v1h-1zM0 41h1v1h-1zM1 4h1v1h-1zM1 6h1v1h-1zM1 9h1v1h-1zM1 14h1v1h-1zM1 22h1v1h-1zM1 31h1v1h-1zM1 33h1v1h-1zM2 2h1v1h-1zM2 10h1v1h-1zM2 20h1v2h-1zM2 23h1v1h-1zM2 28h1v1h-1zM2 30h1v2h-1zM2 35h1v4h-1zM3 0h1v1h-1zM3 16h1v2h-1zM3 22h1v1h-1zM3 24h1v1h-1zM3 30h1v1h-1zM3 34h1v1h-1zM3 36h1v1h-1zM3 38h1v1h-1zM3 40h1v1h-1zM4 1h1v1h-1zM4 6h1v3h-1zM4 24h1v1h-1zM4 26h1v1h-1zM4 29h1v1h-1zM4 31h1v1h-1zM4 33h1v1h-1zM5 2h1v2h-1zM5 11h1v2h-1zM5 25h1v1h-1zM5 37h1v1h-1zM5 40h1v2h-1zM6 3h1v1h-1zM6 6h1v1h-1zM6 9h1v1h-1zM6 11h1v1h-1zM6 17h1v1h-1zM6 20h1v1h-1zM6 22h1v1h-1zM6 24h1v1h-1zM6 27h1v2h-1zM6 32h1v1h-1zM6 36h1v1h-1zM6 38h1v4h-1z"/>
<path fill="#00ffa8" d="M0 5h1v1h-1zM0 7h1v1h-1zM0 12h1v1h-1zM0 20h1v1h-1zM0 29h1v1h-1zM0 36h1v1h-1zM0 43h1v1h-1zM1 8h1v1h-1zM1 17h1v3h-1zM1 24h1v1h-1zM1 28h1v1h-1zM1 30h1v1h-1zM1 34h1v1h-1zM1 37h1v1h-1zM1 47h1v1h-1zM2 5h1v1h-1zM2 14h1v1h-1zM2 24h1v1h-1zM2 29h1v1h-1zM2 39h1v2h-1zM3 7h1v1h-1zM3 11h1v3h-1zM3 15h1v1h-1zM3 18h1v1h-1zM3 21h1v1h-1zM3 26h1v2h-1zM3 32h1v1h-1zM3 37h1v1h-1zM3 39h1v1h-1zM3 45h1v1h-1zM4 15h1v1h-1zM4 20h1v1h-1zM4 35h1v1h-1zM4 37h1v2h-1zM4 40h1v3h-1zM4 44h1v1h-1zM5 4h1v1h-1zM5 10h1v1h-1zM5 42h1v1h-1zM6 13h1v3h-1zM6 21h1v1h-1zM6 25h1v1h-1zM6 30h1v1h-1zM6 33h1v1h-1zM6 35h1v1h-1zM6 42h1v1h-1z"/>
<path fill="#00ff98" d="M0 40h1v1h-1zM0 42h1v1h-1zM0 44h1v3h-1zM1 26h1v1h-1zM1 38h1v2h-1zM1 42h1v1h-1zM1 44h1v1h-1zM2 41h1v2h-1zM2 44h1v1h-1zM3 41h1v3h-1zM4 39h1v1h-1zM6 26h1v1h-1z"/>
<path fill="#00ff88" d="M2 45h1v2h-1zM3 46h1v1h-1zM4 43h1v1h-1zM4 45h1v2h-1zM5 44h1v1h-1zM6 46h1v1h-1z"/>
<path fill="#10ff77" d="M1 45h1v1h-1zM2 47h1v1h-1zM3 44h1v1h-1zM3 47h1v1h-1z"/>
<path fill="#31ff67" d="M0 47h1v1h-1zM1 46h1v1h-1zM5 45h1v1h-1zM6 47h1v1h-1z"/>
<path fill="#b2ff26" d="M5 46h1v1h-1z"/>
<path fill="#d2ff16" d="M1 48h1v1h-1zM2 48h1v1h-1zM4 48h1v1h-1zM5 47h1v1h-1z"/>
<path fill="#f3ff06" d="M0 48h1v1h-1zM3 48h1v1h-1zM5 48h1v1h-1z"/>
<path fill="#fff500" d="M6 48h1v1h-1z"/>
<path fill="#ffb400" d="M1 49h1v1h-1zM2 49h1v1h-1zM3 49h1v1h-1z"/>
<path fill="#ffa400" d="M0 49h1v1h-1zM4 49h1v1h-1z"/>
<path fill="#ff8400" d="M5 49h1v1h-1z"/>
<path fill="#ff6300" d="M6 49h1v1h-1z"/>
</svg></g>
<rect x="202.2" y="29.1" width="125.30000000000001" height="75.75" fill="none" stroke="#4a6a6a" stroke-width="0.7"/>
<path d="M202.2 32.13h1.5M327.5 32.13h-1.5M202.2 35.16h1.5M327.5 35.16h-1.5M202.2 38.19h1.5M327.5 38.19h-1.5M202.2 41.22h1.5M327.5 41.22h-1.5M202.2 44.25h1.5M327.5 44.25h-1.5M202.2 47.28h1.5M327.5 47.28h-1.5M202.2 50.31h1.5M327.5 50.31h-1.5M202.2 53.34h1.5M327.5 53.34h-1.5M202.2 56.37h1.5M327.5 56.37h-1.5M202.2 59.40h1.5M327.5 59.40h-1.5M202.2 62.43h1.5M327.5 62.43h-1.5M202.2 65.46h1.5M327.5 65.46h-1.5M202.2 68.49h1.5M327.5 68.49h-1.5M202.2 71.52h1.5M327.5 71.52h-1.5M202.2 74.55h1.5M327.5 74.55h-1.5M202.2 77.58h1.5M327.5 77.58h-1.5M202.2 80.61h1.5M327.5 80.61h-1.5M202.2 83.64h1.5M327.5 83.64h-1.5M202.2 86.67h1.5M327.5 86.67h-1.5M202.2 89.70h1.5M327.5 89.70h-1.5M202.2 92.73h1.5M327.5 92.73h-1.5M202.2 95.76h1.5M327.5 95.76h-1.5M202.2 98.79h1.5M327.5 98.79h-1.5M202.2 101.82h1.5M327.5 101.82h-1.5M211.15 29.1v1.5M211.15 104.85v-1.5M220.10 29.1v1.5M220.10 104.85v-1.5M229.05 29.1v1.5M229.05 104.85v-1.5M238.00 29.1v1.5M238.00 104.85v-1.5M246.95 29.1v1.5M246.95 104.85v-1.5M255.90 29.1v1.5M255.90 104.85v-1.5M264.85 29.1v1.5M264.85 104.85v-1.5M273.80 29.1v1.5M273.80 104.85v-1.5M282.75 29.1v1.5M282.75 104.85v-1.5M291.70 29.1v1.5M291.70 104.85v-1.5M300.65 29.1v1.5M300.65 104.85v-1.5M309.60 29.1v1.5M309.60 104.85v-1.5M318.55 29.1v1.5M318.55 104.85v-1.5" stroke="#4a6a6a" stroke-width="0.6" fill="none"/>
<g filter="url(#sb)"><svg x="202.2" y="109.7" width="125.30000000000001" height="75.2" viewBox="0 0 7 50" preserveAspectRatio="none" shape-rendering="crispEdges">
<path fill="#00b4ff" d="M6 17h1v1h-1z"/>
<path fill="#00c4ff" d="M4 31h1v1h-1zM5 25h1v1h-1zM6 38h1v1h-1z"/>
<path fill="#00d4ff" d="M1 15h1v1h-1zM2 8h1v1h-1zM3 0h1v1h-1zM3 3h1v1h-1zM5 19h1v1h-1z"/>
<path fill="#00e5ff" d="M2 0h1v1h-1zM4 27h1v1h-1zM5 34h1v1h-1zM6 5h1v1h-1z"/>
<path fill="#00f5ff" d="M0 2h1v1h-1zM0 10h1v1h-1zM0 19h1v1h-1zM1 18h1v1h-1zM2 6h1v1h-1zM2 14h1v1h-1zM2 23h1v1h-1zM2 33h1v1h-1zM3 7h1v1h-1zM3 12h1v2h-1zM3 25h1v2h-1zM4 9h1v1h-1zM4 15h1v1h-1zM4 18h1v1h-1zM4 23h1v1h-1zM4 34h1v2h-1zM5 7h1v1h-1zM5 15h1v1h-1zM5 22h1v1h-1zM5 27h1v1h-1zM6 4h1v1h-1zM6 8h1v2h-1zM6 11h1v1h-1zM6 15h1v2h-1zM6 20h1v1h-1z"/>
<path fill="#00fff9" d="M0 0h1v1h-1zM0 3h1v2h-1zM0 9h1v1h-1zM0 12h1v1h-1zM0 15h1v2h-1zM0 18h1v1h-1zM0 21h1v1h-1zM0 27h1v1h-1zM0 30h1v1h-1zM0 35h1v1h-1zM1 2h1v1h-1zM1 4h1v1h-1zM1 9h1v1h-1zM1 11h1v1h-1zM1 13h1v2h-1zM1 19h1v1h-1zM1 22h1v2h-1zM1 25h1v1h-1zM1 32h1v3h-1zM1 36h1v1h-1zM2 3h1v1h-1zM2 5h1v1h-1zM2 7h1v1h-1zM2 10h1v2h-1zM2 13h1v1h-1zM2 16h1v2h-1zM2 24h1v2h-1zM3 2h1v1h-1zM3 5h1v1h-1zM3 8h1v2h-1zM3 14h1v1h-1zM3 16h1v5h-1zM3 31h1v4h-1zM3 36h1v1h-1zM4 0h1v2h-1zM4 5h1v2h-1zM4 10h1v1h-1zM4 12h1v2h-1zM4 16h1v1h-1zM4 20h1v1h-1zM4 28h1v1h-1zM5 3h1v1h-1zM5 5h1v1h-1zM5 14h1v1h-1zM5 16h1v1h-1zM5 24h1v1h-1zM5 29h1v1h-1zM6 0h1v3h-1zM6 6h1v1h-1zM6 12h1v1h-1zM6 19h1v1h-1zM6 22h1v3h-1zM6 27h1v1h-1zM6 29h1v1h-1zM6 31h1v1h-1zM6 33h1v1h-1zM6 42h1v1h-1z"/>
<path fill="#00ffe9" d="M0 6h1v2h-1zM0 20h1v1h-1zM0 23h1v1h-1zM0 37h1v1h-1zM1 3h1v1h-1zM1 5h1v3h-1zM1 16h1v2h-1zM1 21h1v1h-1zM1 24h1v1h-1zM1 27h1v1h-1zM1 29h1v2h-1zM1 37h1v2h-1zM2 2h1v1h-1zM2 26h1v1h-1zM2 37h1v1h-1zM3 41h1v1h-1zM4 14h1v1h-1zM4 24h1v1h-1zM4 36h1v1h-1zM5 1h1v1h-1zM5 4h1v1h-1zM5 9h1v1h-1zM5 12h1v1h-1zM5 31h1v1h-1zM5 39h1v1h-1zM6 3h1v1h-1zM6 13h1v1h-1zM6 36h1v1h-1z"/>
<path fill="#00ffd9" d="M0 11h1v1h-1zM0 34h1v1h-1zM1 45h1v1h-1zM2 44h1v1h-1zM3 22h1v1h-1zM3 40h1v1h-1zM4 22h1v1h-1zM6 21h1v1h-1z"/>
<path fill="#00ffc8" d="M0 5h1v1h-1zM0 26h1v1h-1zM0 31h1v2h-1zM0 38h1v1h-1zM1 12h1v1h-1zM1 31h1v1h-1zM2 1h1v1h-1zM2 12h1v1h-1zM2 20h1v1h-1zM2 28h1v2h-1zM2 45h1v1h-1zM3 6h1v1h-1zM3 21h1v1h-1zM3 30h1v1h-1zM4 2h1v1h-1zM4 21h1v1h-1zM4 26h1v1h-1zM4 38h1v1h-1zM4 43h1v1h-1zM5 2h1v1h-1zM5 6h1v1h-1zM5 10h1v1h-1zM5 13h1v1h-1zM5 18h1v1h-1zM5 30h1v1h-1zM6 7h1v1h-1zM6 18h1v1h-1zM6 32h1v1h-1zM6 34h1v2h-1zM6 37h1v1h-1z"/>
<path fill="#00ffb8" d="M0 1h1v1h-1zM0 13h1v1h-1zM0 22h1v1h-1zM0 24h1v2h-1zM0 28h1v1h-1zM0 33h1v1h-1zM0 36h1v1h-1zM0 39h1v1h-1zM1 0h1v1h-1zM1 8h1v1h-1zM1 10h1v1h-1zM1 20h1v1h-1zM1 28h1v1h-1zM1 35h1v1h-1zM2 4h1v1h-1zM2 9h1v1h-1zM2 15h1v1h-1zM2 18h1v2h-1zM2 21h1v2h-1zM2 30h1v1h-1zM2 34h1v1h-1zM2 36h1v1h-1zM2 38h1v1h-1zM3 4h1v1h-1zM3 10h1v2h-1zM3 15h1v1h-1zM3 27h1v1h-1zM3 29h1v1h-1zM3 35h1v1h-1zM3 37h1v2h-1zM3 42h1v1h-1zM4 3h1v2h-1zM4 7h1v2h-1zM4 11h1v1h-1zM4 17h1v1h-1zM4 19h1v1h-1zM4 25h1v1h-1zM4 29h1v2h-1zM4 32h1v2h-1zM4 37h1v1h-1zM4 39h1v1h-1zM4 41h1v1h-1zM5 8h1v1h-1zM5 11h1v1h-1zM5 17h1v1h-1zM5 21h1v1h-1zM5 23h1v1h-1zM5 28h1v1h-1zM5 35h1v3h-1zM6 10h1v1h-1zM6 14h1v1h-1zM6 25h1v2h-1zM6 28h1v1h-1zM6 30h1v1h-1zM6 39h1v3h-1z"/>
<path fill="#00ffa8" d="M0 14h1v1h-1zM0 17h1v1h-1zM0 29h1v1h-1zM0 40h1v1h-1zM1 1h1v1h-1zM1 39h1v2h-1zM2 27h1v1h-1zM2 31h1v2h-1zM2 35h1v1h-1zM2 39h1v1h-1zM2 42h1v2h-1zM3 1h1v1h-1zM3 23h1v2h-1zM3 28h1v1h-1zM3 46h1v1h-1zM4 42h1v1h-1zM4 44h1v1h-1zM5 0h1v1h-1zM5 20h1v1h-1zM5 26h1v1h-1zM5 32h1v2h-1zM5 38h1v1h-1zM5 41h1v3h-1zM6 43h1v1h-1z"/>
<path fill="#00ff98" d="M0 8h1v1h-1zM0 42h1v1h-1zM0 45h1v1h-1zM1 26h1v1h-1zM1 41h1v4h-1zM2 40h1v2h-1zM2 47h1v1h-1zM3 39h1v1h-1zM3 43h1v3h-1zM4 40h1v1h-1zM5 40h1v1h-1zM6 44h1v1h-1z"/>
<path fill="#00ff88" d="M0 41h1v1h-1zM0 43h1v2h-1zM1 46h1v1h-1zM2 46h1v1h-1zM4 45h1v2h-1z"/>
<path fill="#10ff77" d="M4 47h1v1h-1z"/>
<path fill="#31ff67" d="M1 47h1v1h-1zM3 47h1v1h-1z"/>
<path fill="#71ff47" d="M0 46h1v1h-1zM2 48h1v1h-1zM5 44h1v1h-1zM6 45h1v1h-1z"/>
<path fill="#b2ff26" d="M5 45h1v1h-1z"/>
<path fill="#d2ff16" d="M4 48h1v1h-1z"/>
<path fill="#f3ff06" d="M0 47h1v1h-1zM1 48h1v1h-1zM5 46h1v1h-1zM6 46h1v1h-1z"/>
<path fill="#fff500" d="M3 48h1v1h-1zM5 47h1v1h-1z"/>
<path fill="#ffd500" d="M0 48h1v1h-1zM6 47h1v1h-1z"/>
<path fill="#ffc400" d="M1 49h1v1h-1z"/>
<path fill="#ffb400" d="M3 49h1v1h-1z"/>
<path fill="#ffa400" d="M5 48h1v1h-1z"/>
<path fill="#ff8400" d="M0 49h1v1h-1zM2 49h1v1h-1zM4 49h1v1h-1z"/>
<path fill="#ff6300" d="M6 48h1v1h-1z"/>
<path fill="#ff5300" d="M5 49h1v1h-1z"/>
<path fill="#ff2200" d="M6 49h1v1h-1z"/>
</svg></g>
<rect x="202.2" y="109.7" width="125.30000000000001" height="75.2" fill="none" stroke="#4a6a6a" stroke-width="0.7"/>
<path d="M202.2 112.71h1.5M327.5 112.71h-1.5M202.2 115.72h1.5M327.5 115.72h-1.5M202.2 118.72h1.5M327.5 118.72h-1.5M202.2 121.73h1.5M327.5 121.73h-1.5M202.2 124.74h1.5M327.5 124.74h-1.5M202.2 127.75h1.5M327.5 127.75h-1.5M202.2 130.76h1.5M327.5 130.76h-1.5M202.2 133.76h1.5M327.5 133.76h-1.5M202.2 136.77h1.5M327.5 136.77h-1.5M202.2 139.78h1.5M327.5 139.78h-1.5M202.2 142.79h1.5M327.5 142.79h-1.5M202.2 145.80h1.5M327.5 145.80h-1.5M202.2 148.80h1.5M327.5 148.80h-1.5M202.2 151.81h1.5M327.5 151.81h-1.5M202.2 154.82h1.5M327.5 154.82h-1.5M202.2 157.83h1.5M327.5 157.83h-1.5M202.2 160.84h1.5M327.5 160.84h-1.5M202.2 163.84h1.5M327.5 163.84h-1.5M202.2 166.85h1.5M327.5 166.85h-1.5M202.2 169.86h1.5M327.5 169.86h-1.5M202.2 172.87h1.5M327.5 172.87h-1.5M202.2 175.88h1.5M327.5 175.88h-1.5M202.2 178.88h1.5M327.5 178.88h-1.5M202.2 181.89h1.5M327.5 181.89h-1.5M211.15 109.7v1.5M211.15 184.9v-1.5M220.10 109.7v1.5M220.10 184.9v-1.5M229.05 109.7v1.5M229.05 184.9v-1.5M238.00 109.7v1.5M238.00 184.9v-1.5M246.95 109.7v1.5M246.95 184.9v-1.5M255.90 109.7v1.5M255.90 184.9v-1.5M264.85 109.7v1.5M264.85 184.9v-1.5M273.80 109.7v1.5M273.80 184.9v-1.5M282.75 109.7v1.5M282.75 184.9v-1.5M291.70 109.7v1.5M291.70 184.9v-1.5M300.65 109.7v1.5M300.65 184.9v-1.5M309.60 109.7v1.5M309.60 184.9v-1.5M318.55 109.7v1.5M318.55 184.9v-1.5" stroke="#4a6a6a" stroke-width="0.6" fill="none"/>
<g filter="url(#sb)"><svg x="202.2" y="189.8" width="125.30000000000001" height="75.39999999999998" viewBox="0 0 7 50" preserveAspectRatio="none" shape-rendering="crispEdges">
<path fill="#00c4ff" d="M0 27h1v1h-1zM4 9h1v1h-1z"/>
<path fill="#00d4ff" d="M2 4h1v1h-1zM6 32h1v1h-1z"/>
<path fill="#00e5ff" d="M3 9h1v1h-1z"/>
<path fill="#00f5ff" d="M0 18h1v1h-1zM0 22h1v1h-1zM1 4h1v1h-1zM1 9h1v2h-1zM1 19h1v2h-1zM1 28h1v1h-1zM2 13h1v1h-1zM2 16h1v1h-1zM3 10h1v1h-1zM3 25h1v1h-1zM4 2h1v1h-1zM4 28h1v1h-1zM5 1h1v1h-1zM5 39h1v1h-1zM6 9h1v1h-1z"/>
<path fill="#00fff9" d="M0 0h1v2h-1zM0 10h1v4h-1zM0 17h1v1h-1zM0 20h1v1h-1zM0 36h1v1h-1zM1 15h1v3h-1zM1 21h1v2h-1zM1 24h1v2h-1zM1 27h1v1h-1zM1 32h1v1h-1zM1 41h1v1h-1zM1 46h1v1h-1zM2 0h1v1h-1zM2 18h1v1h-1zM2 27h1v2h-1zM3 0h1v1h-1zM3 4h1v2h-1zM3 7h1v2h-1zM3 13h1v3h-1zM3 19h1v1h-1zM3 34h1v1h-1zM3 39h1v1h-1zM4 1h1v1h-1zM4 7h1v1h-1zM4 34h1v1h-1zM4 39h1v1h-1zM5 0h1v1h-1zM5 2h1v3h-1zM5 6h1v1h-1zM5 9h1v1h-1zM5 11h1v1h-1zM5 17h1v2h-1zM5 21h1v3h-1zM5 28h1v1h-1zM5 30h1v2h-1zM5 33h1v2h-1zM5 36h1v1h-1zM6 7h1v2h-1zM6 13h1v1h-1zM6 20h1v1h-1zM6 22h1v1h-1zM6 24h1v2h-1zM6 28h1v1h-1zM6 37h1v1h-1z"/>
<path fill="#00ffe9" d="M0 2h1v2h-1zM0 9h1v1h-1zM0 24h1v1h-1zM0 31h1v1h-1zM0 44h1v1h-1zM1 2h1v1h-1zM1 7h1v1h-1zM1 29h1v2h-1zM2 3h1v1h-1zM2 8h1v1h-1zM2 10h1v1h-1zM2 15h1v1h-1zM2 17h1v1h-1zM2 25h1v2h-1zM2 33h1v1h-1zM3 2h1v1h-1zM3 20h1v1h-1zM3 27h1v1h-1zM3 46h1v1h-1zM4 3h1v1h-1zM4 5h1v2h-1zM4 15h1v1h-1zM4 18h1v1h-1zM4 23h1v1h-1zM4 32h1v1h-1zM4 38h1v1h-1zM4 43h1v1h-1zM5 8h1v1h-1zM5 10h1v1h-1zM5 16h1v1h-1zM5 24h1v1h-1zM5 29h1v1h-1zM6 1h1v1h-1zM6 3h1v1h-1zM6 6h1v1h-1zM6 10h1v1h-1zM6 12h1v1h-1zM6 14h1v1h-1zM6 16h1v3h-1zM6 23h1v1h-1zM6 44h1v1h-1z"/>
<path fill="#00ffd9" d="M0 6h1v1h-1zM0 21h1v1h-1zM0 33h1v1h-1zM1 0h1v1h-1zM1 23h1v1h-1zM1 35h1v1h-1zM2 5h1v1h-1zM2 46h1v1h-1zM3 16h1v1h-1zM3 28h1v1h-1zM3 38h1v1h-1zM4 11h1v1h-1zM4 13h1v1h-1zM4 19h1v1h-1zM4 31h1v1h-1zM5 13h1v1h-1zM5 26h1v1h-1zM5 42h1v1h-1z"/>
<path fill="#00ffc8" d="M0 26h1v1h-1zM0 29h1v1h-1zM1 1h1v1h-1zM1 3h1v1h-1zM1 5h1v2h-1zM1 12h1v2h-1zM1 34h1v1h-1zM1 36h1v2h-1zM2 24h1v1h-1zM2 31h1v1h-1zM2 37h1v1h-1zM2 47h1v1h-1zM3 6h1v1h-1zM3 11h1v2h-1zM3 21h1v1h-1zM3 23h1v1h-1zM3 26h1v1h-1zM3 30h1v3h-1zM3 36h1v2h-1zM4 8h1v1h-1zM4 16h1v1h-1zM4 24h1v1h-1zM4 27h1v1h-1zM4 30h1v1h-1zM4 37h1v1h-1zM5 15h1v1h-1zM5 20h1v1h-1zM5 41h1v1h-1zM6 2h1v1h-1zM6 21h1v1h-1zM6 33h1v1h-1zM6 41h1v1h-1zM6 43h1v1h-1z"/>
<path fill="#00ffb8" d="M0 19h1v1h-1zM0 23h1v1h-1zM0 25h1v1h-1zM0 28h1v1h-1zM0 32h1v1h-1zM0 34h1v2h-1zM0 37h1v3h-1zM0 41h1v1h-1zM0 48h1v1h-1zM1 8h1v1h-1zM1 11h1v1h-1zM1 14h1v1h-1zM1 18h1v1h-1zM1 26h1v1h-1zM1 31h1v1h-1zM1 33h1v1h-1zM1 39h1v1h-1zM1 42h1v4h-1zM1 47h1v2h-1zM2 9h1v1h-1zM2 11h1v1h-1zM2 14h1v1h-1zM2 32h1v1h-1zM2 35h1v1h-1zM2 38h1v1h-1zM3 3h1v1h-1zM3 17h1v2h-1zM3 22h1v1h-1zM3 29h1v1h-1zM3 35h1v1h-1zM3 42h1v3h-1zM4 0h1v1h-1zM4 4h1v1h-1zM4 10h1v1h-1zM4 14h1v1h-1zM4 17h1v1h-1zM4 22h1v1h-1zM4 26h1v1h-1zM4 29h1v1h-1zM4 33h1v1h-1zM4 35h1v2h-1zM4 41h1v1h-1zM4 45h1v1h-1zM4 48h1v1h-1zM5 5h1v1h-1zM5 7h1v1h-1zM5 12h1v1h-1zM5 19h1v1h-1zM5 25h1v1h-1zM5 27h1v1h-1zM5 32h1v1h-1zM5 35h1v1h-1zM5 38h1v1h-1zM5 44h1v2h-1zM5 47h1v2h-1zM6 0h1v1h-1zM6 4h1v1h-1zM6 11h1v1h-1zM6 26h1v2h-1zM6 29h1v2h-1zM6 35h1v2h-1zM6 45h1v1h-1z"/>
<path fill="#00ffa8" d="M0 4h1v2h-1zM0 7h1v2h-1zM0 15h1v2h-1zM0 45h1v1h-1zM0 47h1v1h-1zM1 38h1v1h-1zM2 1h1v2h-1zM2 6h1v2h-1zM2 12h1v1h-1zM2 19h1v5h-1zM2 29h1v2h-1zM2 34h1v1h-1zM2 36h1v1h-1zM2 41h1v5h-1zM3 1h1v1h-1zM3 24h1v1h-1zM3 33h1v1h-1zM3 41h1v1h-1zM3 48h1v1h-1zM4 12h1v1h-1zM4 20h1v2h-1zM4 25h1v1h-1zM4 44h1v1h-1zM5 14h1v1h-1zM5 37h1v1h-1zM5 43h1v1h-1zM6 5h1v1h-1zM6 15h1v1h-1zM6 19h1v1h-1zM6 31h1v1h-1zM6 34h1v1h-1zM6 38h1v2h-1zM6 42h1v1h-1zM6 47h1v1h-1z"/>
<path fill="#00ff98" d="M0 14h1v1h-1zM0 30h1v1h-1zM0 42h1v2h-1zM0 49h1v1h-1zM1 49h1v1h-1zM2 39h1v1h-1zM2 48h1v2h-1zM3 45h1v1h-1zM3 47h1v1h-1zM3 49h1v1h-1zM4 42h1v1h-1zM4 47h1v1h-1zM4 49h1v1h-1zM5 49h1v1h-1zM6 46h1v1h-1zM6 48h1v2h-1z"/>
<path fill="#51ff57" d="M0 40h1v1h-1zM0 46h1v1h-1zM1 40h1v1h-1zM2 40h1v1h-1zM3 40h1v1h-1zM4 40h1v1h-1zM4 46h1v1h-1zM5 40h1v1h-1zM5 46h1v1h-1zM6 40h1v1h-1z"/>
</svg></g>
<rect x="202.2" y="189.8" width="125.30000000000001" height="75.39999999999998" fill="none" stroke="#4a6a6a" stroke-width="0.7"/>
<path d="M202.2 192.82h1.5M327.5 192.82h-1.5M202.2 195.83h1.5M327.5 195.83h-1.5M202.2 198.85h1.5M327.5 198.85h-1.5M202.2 201.86h1.5M327.5 201.86h-1.5M202.2 204.88h1.5M327.5 204.88h-1.5M202.2 207.90h1.5M327.5 207.90h-1.5M202.2 210.91h1.5M327.5 210.91h-1.5M202.2 213.93h1.5M327.5 213.93h-1.5M202.2 216.94h1.5M327.5 216.94h-1.5M202.2 219.96h1.5M327.5 219.96h-1.5M202.2 222.98h1.5M327.5 222.98h-1.5M202.2 225.99h1.5M327.5 225.99h-1.5M202.2 229.01h1.5M327.5 229.01h-1.5M202.2 232.02h1.5M327.5 232.02h-1.5M202.2 235.04h1.5M327.5 235.04h-1.5M202.2 238.06h1.5M327.5 238.06h-1.5M202.2 241.07h1.5M327.5 241.07h-1.5M202.2 244.09h1.5M327.5 244.09h-1.5M202.2 247.10h1.5M327.5 247.10h-1.5M202.2 250.12h1.5M327.5 250.12h-1.5M202.2 253.14h1.5M327.5 253.14h-1.5M202.2 256.15h1.5M327.5 256.15h-1.5M202.2 259.17h1.5M327.5 259.17h-1.5M202.2 262.18h1.5M327.5 262.18h-1.5M211.15 189.8v1.5M211.15 265.2v-1.5M220.10 189.8v1.5M220.10 265.2v-1.5M229.05 189.8v1.5M229.05 265.2v-1.5M238.00 189.8v1.5M238.00 265.2v-1.5M246.95 189.8v1.5M246.95 265.2v-1.5M255.90 189.8v1.5M255.90 265.2v-1.5M264.85 189.8v1.5M264.85 265.2v-1.5M273.80 189.8v1.5M273.80 265.2v-1.5M282.75 189.8v1.5M282.75 265.2v-1.5M291.70 189.8v1.5M291.70 265.2v-1.5M300.65 189.8v1.5M300.65 265.2v-1.5M309.60 189.8v1.5M309.60 265.2v-1.5M318.55 189.8v1.5M318.55 265.2v-1.5" stroke="#4a6a6a" stroke-width="0.6" fill="none"/>
<rect x="202.2" y="270.2" width="125.30000000000001" height="75.10000000000002" fill="none" stroke="#6a6a6a" stroke-width="0.7"/>
<path d="M202.2 273.20h1.5M327.5 273.20h-1.5M202.2 276.21h1.5M327.5 276.21h-1.5M202.2 279.21h1.5M327.5 279.21h-1.5M202.2 282.22h1.5M327.5 282.22h-1.5M202.2 285.22h1.5M327.5 285.22h-1.5M202.2 288.22h1.5M327.5 288.22h-1.5M202.2 291.23h1.5M327.5 291.23h-1.5M202.2 294.23h1.5M327.5 294.23h-1.5M202.2 297.24h1.5M327.5 297.24h-1.5M202.2 300.24h1.5M327.5 300.24h-1.5M202.2 303.24h1.5M327.5 303.24h-1.5M202.2 306.25h1.5M327.5 306.25h-1.5M202.2 309.25h1.5M327.5 309.25h-1.5M202.2 312.26h1.5M327.5 312.26h-1.5M202.2 315.26h1.5M327.5 315.26h-1.5M202.2 318.26h1.5M327.5 318.26h-1.5M202.2 321.27h1.5M327.5 321.27h-1.5M202.2 324.27h1.5M327.5 324.27h-1.5M202.2 327.28h1.5M327.5 327.28h-1.5M202.2 330.28h1.5M327.5 330.28h-1.5M202.2 333.28h1.5M327.5 333.28h-1.5M202.2 336.29h1.5M327.5 336.29h-1.5M202.2 339.29h1.5M327.5 339.29h-1.5M202.2 342.30h1.5M327.5 342.30h-1.5M211.15 270.2v1.5M211.15 345.3v-1.5M220.10 270.2v1.5M220.10 345.3v-1.5M229.05 270.2v1.5M229.05 345.3v-1.5M238.00 270.2v1.5M238.00 345.3v-1.5M246.95 270.2v1.5M246.95 345.3v-1.5M255.90 270.2v1.5M255.90 345.3v-1.5M264.85 270.2v1.5M264.85 345.3v-1.5M273.80 270.2v1.5M273.80 345.3v-1.5M282.75 270.2v1.5M282.75 345.3v-1.5M291.70 270.2v1.5M291.70 345.3v-1.5M300.65 270.2v1.5M300.65 345.3v-1.5M309.60 270.2v1.5M309.60 345.3v-1.5M318.55 270.2v1.5M318.55 345.3v-1.5" stroke="#6a6a6a" stroke-width="0.6" fill="none"/>
<rect x="202.2" y="350.7" width="125.30000000000001" height="74.20000000000005" fill="none" stroke="#6a6a6a" stroke-width="0.7"/>
<path d="M202.2 353.67h1.5M327.5 353.67h-1.5M202.2 356.64h1.5M327.5 356.64h-1.5M202.2 359.60h1.5M327.5 359.60h-1.5M202.2 362.57h1.5M327.5 362.57h-1.5M202.2 365.54h1.5M327.5 365.54h-1.5M202.2 368.51h1.5M327.5 368.51h-1.5M202.2 371.48h1.5M327.5 371.48h-1.5M202.2 374.44h1.5M327.5 374.44h-1.5M202.2 377.41h1.5M327.5 377.41h-1.5M202.2 380.38h1.5M327.5 380.38h-1.5M202.2 383.35h1.5M327.5 383.35h-1.5M202.2 386.32h1.5M327.5 386.32h-1.5M202.2 389.28h1.5M327.5 389.28h-1.5M202.2 392.25h1.5M327.5 392.25h-1.5M202.2 395.22h1.5M327.5 395.22h-1.5M202.2 398.19h1.5M327.5 398.19h-1.5M202.2 401.16h1.5M327.5 401.16h-1.5M202.2 404.12h1.5M327.5 404.12h-1.5M202.2 407.09h1.5M327.5 407.09h-1.5M202.2 410.06h1.5M327.5 410.06h-1.5M202.2 413.03h1.5M327.5 413.03h-1.5M202.2 416.00h1.5M327.5 416.00h-1.5M202.2 418.96h1.5M327.5 418.96h-1.5M202.2 421.93h1.5M327.5 421.93h-1.5M211.15 350.7v1.5M211.15 424.90000000000003v-1.5M220.10 350.7v1.5M220.10 424.90000000000003v-1.5M229.05 350.7v1.5M229.05 424.90000000000003v-1.5M238.00 350.7v1.5M238.00 424.90000000000003v-1.5M246.95 350.7v1.5M246.95 424.90000000000003v-1.5M255.90 350.7v1.5M255.90 424.90000000000003v-1.5M264.85 350.7v1.5M264.85 424.90000000000003v-1.5M273.80 350.7v1.5M273.80 424.90000000000003v-1.5M282.75 350.7v1.5M282.75 424.90000000000003v-1.5M291.70 350.7v1.5M291.70 424.90000000000003v-1.5M300.65 350.7v1.5M300.65 424.90000000000003v-1.5M309.60 350.7v1.5M309.60 424.90000000000003v-1.5M318.55 350.7v1.5M318.55 424.90000000000003v-1.5" stroke="#6a6a6a" stroke-width="0.6" fill="none"/>
<g filter="url(#sb)"><svg x="353.0" y="29.1" width="125.30000000000001" height="75.75" viewBox="0 0 8 50" preserveAspectRatio="none" shape-rendering="crispEdges">
<path fill="#00c4ff" d="M1 8h1v1h-1zM2 3h1v1h-1zM6 13h1v1h-1zM6 29h1v1h-1zM7 36h1v1h-1z"/>
<path fill="#00d4ff" d="M0 31h1v1h-1zM3 15h1v1h-1zM4 28h1v1h-1zM5 18h1v1h-1z"/>
<path fill="#00e5ff" d="M3 31h1v1h-1zM4 5h1v1h-1zM4 21h1v1h-1zM6 23h1v1h-1zM7 6h1v1h-1zM7 34h1v1h-1z"/>
<path fill="#00f5ff" d="M0 7h1v1h-1zM0 9h1v1h-1zM0 23h1v1h-1zM0 26h1v3h-1zM0 34h1v1h-1zM0 36h1v1h-1zM0 38h1v1h-1zM1 20h1v1h-1zM2 28h1v2h-1zM2 33h1v1h-1zM3 0h1v1h-1zM3 2h1v1h-1zM3 10h1v2h-1zM3 17h1v1h-1zM3 20h1v1h-1zM4 2h1v1h-1zM4 10h1v1h-1zM4 20h1v1h-1zM4 36h1v1h-1zM6 1h1v1h-1zM6 4h1v1h-1zM6 7h1v2h-1zM6 14h1v1h-1zM6 17h1v1h-1zM6 22h1v1h-1zM6 24h1v1h-1zM6 36h1v1h-1zM7 2h1v1h-1zM7 9h1v1h-1zM7 12h1v1h-1zM7 19h1v1h-1zM7 23h1v1h-1zM7 26h1v1h-1zM7 29h1v1h-1zM7 32h1v1h-1z"/>
<path fill="#00fff9" d="M0 0h1v1h-1zM0 2h1v1h-1zM0 4h1v1h-1zM0 10h1v1h-1zM0 13h1v1h-1zM0 18h1v2h-1zM0 21h1v2h-1zM0 24h1v1h-1zM0 29h1v2h-1zM1 4h1v1h-1zM1 10h1v1h-1zM1 13h1v1h-1zM1 16h1v3h-1zM1 25h1v1h-1zM1 27h1v1h-1zM1 37h1v1h-1zM2 6h1v1h-1zM2 10h1v1h-1zM2 13h1v1h-1zM2 20h1v1h-1zM2 36h1v1h-1zM3 6h1v4h-1zM3 12h1v1h-1zM3 14h1v1h-1zM3 16h1v1h-1zM3 19h1v1h-1zM3 21h1v1h-1zM3 26h1v1h-1zM3 28h1v1h-1zM3 35h1v1h-1zM4 6h1v2h-1zM4 9h1v1h-1zM4 11h1v1h-1zM4 15h1v1h-1zM4 17h1v1h-1zM4 22h1v1h-1zM4 24h1v1h-1zM4 29h1v1h-1zM4 37h1v1h-1zM4 39h1v1h-1zM5 0h1v2h-1zM5 10h1v2h-1zM5 15h1v1h-1zM5 17h1v1h-1zM5 29h1v2h-1zM5 33h1v1h-1zM5 36h1v1h-1zM6 0h1v1h-1zM6 3h1v1h-1zM6 9h1v1h-1zM6 15h1v2h-1zM6 18h1v3h-1zM6 30h1v3h-1zM6 38h1v2h-1zM7 0h1v2h-1zM7 5h1v1h-1zM7 13h1v1h-1zM7 31h1v1h-1z"/>
<path fill="#00ffe9" d="M0 1h1v1h-1zM0 14h1v2h-1zM0 32h1v1h-1zM0 37h1v1h-1zM1 6h1v2h-1zM1 12h1v1h-1zM1 14h1v1h-1zM1 19h1v1h-1zM1 24h1v1h-1zM1 31h1v1h-1zM1 34h1v1h-1zM1 36h1v1h-1zM2 4h1v1h-1zM2 8h1v2h-1zM2 12h1v1h-1zM2 27h1v1h-1zM2 30h1v1h-1zM2 32h1v1h-1zM3 1h1v1h-1zM3 40h1v2h-1zM4 3h1v1h-1zM4 14h1v1h-1zM4 42h1v1h-1zM5 2h1v1h-1zM5 6h1v3h-1zM5 19h1v1h-1zM5 22h1v1h-1zM5 34h1v1h-1zM6 10h1v1h-1zM6 27h1v1h-1zM6 44h1v1h-1zM7 3h1v1h-1zM7 8h1v1h-1zM7 14h1v1h-1zM7 16h1v1h-1zM7 20h1v1h-1zM7 27h1v1h-1zM7 40h1v1h-1zM7 42h1v1h-1z"/>
<path fill="#00ffd9" d="M0 3h1v1h-1zM0 8h1v1h-1zM1 9h1v1h-1zM1 15h1v1h-1zM1 32h1v1h-1zM1 42h1v1h-1zM2 16h1v1h-1zM2 35h1v1h-1zM2 41h1v1h-1zM3 43h1v1h-1zM4 8h1v1h-1zM4 32h1v1h-1zM5 3h1v1h-1zM5 42h1v1h-1zM6 25h1v1h-1zM6 28h1v1h-1zM6 45h1v1h-1zM7 10h1v1h-1z"/>
<path fill="#00ffc8" d="M0 6h1v1h-1zM0 11h1v2h-1zM0 16h1v1h-1zM0 20h1v1h-1zM0 25h1v1h-1zM0 33h1v1h-1zM0 35h1v1h-1zM1 33h1v1h-1zM2 19h1v1h-1zM2 22h1v1h-1zM3 3h1v3h-1zM3 22h1v1h-1zM3 24h1v1h-1zM3 32h1v1h-1zM3 38h1v1h-1zM4 1h1v1h-1zM4 4h1v1h-1zM4 12h1v2h-1zM4 19h1v1h-1zM4 23h1v1h-1zM4 25h1v2h-1zM4 30h1v2h-1zM4 38h1v1h-1zM4 47h1v1h-1zM5 25h1v1h-1zM6 5h1v2h-1zM6 11h1v1h-1zM6 21h1v1h-1zM6 26h1v1h-1zM6 34h1v2h-1zM7 4h1v1h-1zM7 7h1v1h-1zM7 11h1v1h-1zM7 18h1v1h-1zM7 21h1v1h-1zM7 33h1v1h-1zM7 35h1v1h-1z"/>
<path fill="#00ffb8" d="M0 5h1v1h-1zM0 17h1v1h-1zM0 40h1v1h-1zM0 42h1v1h-1zM1 3h1v1h-1zM1 5h1v1h-1zM1 22h1v1h-1zM1 26h1v1h-1zM1 28h1v2h-1zM1 38h1v1h-1zM2 1h1v1h-1zM2 7h1v1h-1zM2 14h1v1h-1zM2 21h1v1h-1zM2 24h1v1h-1zM2 26h1v1h-1zM2 31h1v1h-1zM2 37h1v1h-1zM2 40h1v1h-1zM3 18h1v1h-1zM3 23h1v1h-1zM3 29h1v1h-1zM3 34h1v1h-1zM3 37h1v1h-1zM3 39h1v1h-1zM3 42h1v1h-1zM4 0h1v1h-1zM4 16h1v1h-1zM4 18h1v1h-1zM4 33h1v3h-1zM4 40h1v1h-1zM4 43h1v2h-1zM5 4h1v1h-1zM5 12h1v1h-1zM5 14h1v1h-1zM5 16h1v1h-1zM5 20h1v1h-1zM5 23h1v2h-1zM5 28h1v1h-1zM5 31h1v2h-1zM6 2h1v1h-1zM6 12h1v1h-1zM6 33h1v1h-1zM6 37h1v1h-1zM6 40h1v1h-1zM7 17h1v1h-1zM7 22h1v1h-1zM7 24h1v2h-1zM7 41h1v1h-1z"/>
<path fill="#00ffa8" d="M0 39h1v1h-1zM1 0h1v3h-1zM1 11h1v1h-1zM1 21h1v1h-1zM1 23h1v1h-1zM1 30h1v1h-1zM1 39h1v2h-1zM2 2h1v1h-1zM2 5h1v1h-1zM2 11h1v1h-1zM2 15h1v1h-1zM2 17h1v2h-1zM2 23h1v1h-1zM2 34h1v1h-1zM2 38h1v2h-1zM2 44h1v1h-1zM3 13h1v1h-1zM3 25h1v1h-1zM3 27h1v1h-1zM3 30h1v1h-1zM3 33h1v1h-1zM3 36h1v1h-1zM3 45h1v1h-1zM4 27h1v1h-1zM4 41h1v1h-1zM4 45h1v1h-1zM5 5h1v1h-1zM5 9h1v1h-1zM5 13h1v1h-1zM5 21h1v1h-1zM5 26h1v2h-1zM5 35h1v1h-1zM5 38h1v2h-1zM6 41h1v2h-1zM7 15h1v1h-1zM7 28h1v1h-1zM7 30h1v1h-1zM7 37h1v3h-1zM7 43h1v2h-1z"/>
<path fill="#00ff98" d="M0 41h1v1h-1zM0 43h1v3h-1zM0 47h1v1h-1zM1 35h1v1h-1zM1 41h1v1h-1zM2 0h1v1h-1zM2 25h1v1h-1zM2 42h1v2h-1zM2 45h1v2h-1zM3 44h1v1h-1zM4 46h1v1h-1zM5 37h1v1h-1zM5 40h1v2h-1zM5 43h1v2h-1zM5 46h1v1h-1zM6 43h1v1h-1zM7 46h1v1h-1z"/>
<path fill="#00ff88" d="M0 46h1v1h-1zM3 46h1v1h-1zM5 47h1v1h-1zM6 46h1v1h-1zM7 45h1v1h-1zM7 47h1v1h-1z"/>
<path fill="#10ff77" d="M5 45h1v1h-1zM6 47h1v1h-1z"/>
<path fill="#31ff67" d="M6 48h1v1h-1zM7 48h1v1h-1z"/>
<path fill="#71ff47" d="M4 48h1v1h-1zM5 48h1v1h-1z"/>
<path fill="#b2ff26" d="M1 43h1v1h-1zM2 47h1v1h-1z"/>
<path fill="#d2ff16" d="M0 48h1v1h-1zM3 47h1v1h-1z"/>
<path fill="#f3ff06" d="M1 44h1v1h-1zM2 48h1v1h-1z"/>
<path fill="#fff500" d="M1 45h1v1h-1zM3 48h1v1h-1z"/>
<path fill="#ffd500" d="M1 46h1v1h-1z"/>
<path fill="#ffa400" d="M0 49h1v1h-1zM2 49h1v1h-1zM3 49h1v1h-1zM4 49h1v1h-1zM5 49h1v1h-1zM6 49h1v1h-1z"/>
<path fill="#ff8400" d="M7 49h1v1h-1z"/>
<path fill="#ff7300" d="M1 47h1v1h-1z"/>
<path fill="#ff2200" d="M1 48h1v1h-1z"/>
<path fill="#ff1200" d="M1 49h1v1h-1z"/>
</svg></g>
<rect x="353.0" y="29.1" width="125.30000000000001" height="75.75" fill="none" stroke="#4a6a6a" stroke-width="0.7"/>
<path d="M353.0 32.13h1.5M478.3 32.13h-1.5M353.0 35.16h1.5M478.3 35.16h-1.5M353.0 38.19h1.5M478.3 38.19h-1.5M353.0 41.22h1.5M478.3 41.22h-1.5M353.0 44.25h1.5M478.3 44.25h-1.5M353.0 47.28h1.5M478.3 47.28h-1.5M353.0 50.31h1.5M478.3 50.31h-1.5M353.0 53.34h1.5M478.3 53.34h-1.5M353.0 56.37h1.5M478.3 56.37h-1.5M353.0 59.40h1.5M478.3 59.40h-1.5M353.0 62.43h1.5M478.3 62.43h-1.5M353.0 65.46h1.5M478.3 65.46h-1.5M353.0 68.49h1.5M478.3 68.49h-1.5M353.0 71.52h1.5M478.3 71.52h-1.5M353.0 74.55h1.5M478.3 74.55h-1.5M353.0 77.58h1.5M478.3 77.58h-1.5M353.0 80.61h1.5M478.3 80.61h-1.5M353.0 83.64h1.5M478.3 83.64h-1.5M353.0 86.67h1.5M478.3 86.67h-1.5M353.0 89.70h1.5M478.3 89.70h-1.5M353.0 92.73h1.5M478.3 92.73h-1.5M353.0 95.76h1.5M478.3 95.76h-1.5M353.0 98.79h1.5M478.3 98.79h-1.5M353.0 101.82h1.5M478.3 101.82h-1.5M361.95 29.1v1.5M361.95 104.85v-1.5M370.90 29.1v1.5M370.90 104.85v-1.5M379.85 29.1v1.5M379.85 104.85v-1.5M388.80 29.1v1.5M388.80 104.85v-1.5M397.75 29.1v1.5M397.75 104.85v-1.5M406.70 29.1v1.5M406.70 104.85v-1.5M415.65 29.1v1.5M415.65 104.85v-1.5M424.60 29.1v1.5M424.60 104.85v-1.5M433.55 29.1v1.5M433.55 104.85v-1.5M442.50 29.1v1.5M442.50 104.85v-1.5M451.45 29.1v1.5M451.45 104.85v-1.5M460.40 29.1v1.5M460.40 104.85v-1.5M469.35 29.1v1.5M469.35 104.85v-1.5" stroke="#4a6a6a" stroke-width="0.6" fill="none"/>
<g filter="url(#sb)"><svg x="353.0" y="109.7" width="125.30000000000001" height="75.2" viewBox="0 0 8 50" preserveAspectRatio="none" shape-rendering="crispEdges">
<path fill="#00c4ff" d="M0 24h1v1h-1zM0 45h1v1h-1zM2 9h1v1h-1zM4 0h1v1h-1zM6 25h1v1h-1z"/>
<path fill="#00d4ff" d="M0 30h1v1h-1zM7 14h1v1h-1zM7 18h1v1h-1z"/>
<path fill="#00e5ff" d="M2 17h1v1h-1zM4 5h1v1h-1z"/>
<path fill="#00f5ff" d="M2 3h1v1h-1zM2 5h1v1h-1zM2 11h1v1h-1zM2 13h1v1h-1zM2 19h1v1h-1zM2 24h1v1h-1zM2 26h1v1h-1zM2 28h1v2h-1zM2 37h1v2h-1zM3 5h1v1h-1zM3 10h1v1h-1zM4 2h1v2h-1zM4 17h1v1h-1zM4 22h1v1h-1zM4 24h1v1h-1zM4 26h1v2h-1zM4 35h1v1h-1zM5 12h1v1h-1zM6 9h1v1h-1zM6 24h1v1h-1zM6 29h1v1h-1zM7 7h1v1h-1zM7 15h1v1h-1zM7 20h1v1h-1zM7 23h1v1h-1z"/>
<path fill="#00fff9" d="M0 4h1v1h-1zM0 21h1v1h-1zM0 25h1v2h-1zM0 28h1v1h-1zM0 31h1v1h-1zM1 6h1v1h-1zM1 13h1v2h-1zM1 17h1v1h-1zM1 21h1v1h-1zM1 26h1v1h-1zM1 29h1v1h-1zM2 4h1v1h-1zM2 6h1v1h-1zM2 10h1v1h-1zM2 30h1v1h-1zM2 33h1v1h-1zM2 36h1v1h-1zM2 39h1v2h-1zM3 2h1v1h-1zM3 6h1v1h-1zM3 8h1v1h-1zM3 16h1v1h-1zM3 24h1v2h-1zM3 31h1v1h-1zM3 36h1v1h-1zM3 38h1v1h-1zM4 1h1v1h-1zM4 9h1v1h-1zM4 11h1v1h-1zM4 16h1v1h-1zM4 18h1v1h-1zM4 20h1v1h-1zM4 25h1v1h-1zM4 32h1v3h-1zM4 37h1v1h-1zM4 41h1v1h-1zM5 4h1v1h-1zM5 8h1v1h-1zM5 14h1v1h-1zM5 17h1v1h-1zM5 21h1v1h-1zM5 26h1v1h-1zM5 28h1v1h-1zM5 34h1v1h-1zM6 10h1v1h-1zM6 13h1v2h-1zM6 22h1v1h-1zM6 26h1v1h-1zM7 2h1v2h-1zM7 12h1v1h-1zM7 19h1v1h-1zM7 21h1v1h-1zM7 27h1v6h-1zM7 35h1v1h-1z"/>
<path fill="#00ffe9" d="M0 0h1v1h-1zM0 7h1v1h-1zM0 10h1v3h-1zM0 16h1v2h-1zM0 19h1v1h-1zM0 32h1v1h-1zM0 34h1v1h-1zM1 1h1v1h-1zM1 8h1v2h-1zM1 18h1v1h-1zM1 24h1v1h-1zM1 30h1v1h-1zM1 35h1v1h-1zM1 39h1v1h-1zM2 7h1v2h-1zM2 15h1v1h-1zM2 21h1v1h-1zM2 41h1v1h-1zM3 1h1v1h-1zM3 7h1v1h-1zM3 9h1v1h-1zM3 22h1v2h-1zM3 35h1v1h-1zM4 12h1v2h-1zM4 19h1v1h-1zM4 29h1v1h-1zM4 42h1v1h-1zM5 0h1v2h-1zM5 6h1v2h-1zM5 9h1v1h-1zM5 13h1v1h-1zM5 19h1v1h-1zM5 27h1v1h-1zM5 30h1v1h-1zM5 33h1v1h-1zM5 38h1v1h-1zM6 2h1v3h-1zM6 7h1v2h-1zM6 15h1v1h-1zM6 17h1v2h-1zM6 23h1v1h-1zM6 27h1v1h-1zM6 30h1v1h-1zM6 37h1v1h-1zM7 0h1v1h-1zM7 6h1v1h-1zM7 13h1v1h-1zM7 25h1v1h-1zM7 33h1v1h-1zM7 42h1v2h-1z"/>
<path fill="#00ffd9" d="M0 1h1v1h-1zM0 13h1v1h-1zM0 15h1v1h-1zM0 22h1v2h-1zM0 27h1v1h-1zM0 35h1v1h-1zM1 2h1v1h-1zM1 4h1v2h-1zM1 15h1v1h-1zM1 22h1v2h-1zM1 36h1v1h-1zM1 41h1v1h-1zM2 0h1v1h-1zM2 18h1v1h-1zM2 22h1v1h-1zM3 4h1v1h-1zM3 34h1v1h-1zM4 4h1v1h-1zM4 10h1v1h-1zM4 14h1v1h-1zM4 36h1v1h-1zM4 43h1v1h-1zM5 15h1v2h-1zM5 41h1v1h-1zM5 44h1v1h-1zM6 6h1v1h-1zM6 12h1v1h-1zM6 33h1v1h-1zM7 40h1v1h-1zM7 44h1v1h-1z"/>
<path fill="#00ffc8" d="M0 8h1v1h-1zM0 39h1v1h-1zM2 2h1v1h-1zM2 14h1v1h-1zM2 20h1v1h-1zM2 23h1v1h-1zM2 27h1v1h-1zM2 32h1v1h-1zM2 34h1v1h-1zM3 0h1v1h-1zM3 11h1v1h-1zM3 26h1v2h-1zM3 37h1v1h-1zM4 6h1v2h-1zM4 15h1v1h-1zM4 21h1v1h-1zM4 28h1v1h-1zM4 30h1v2h-1zM4 38h1v1h-1zM5 5h1v1h-1zM5 25h1v1h-1zM6 32h1v1h-1zM6 38h1v1h-1zM6 41h1v1h-1zM7 4h1v1h-1zM7 11h1v1h-1zM7 34h1v1h-1z"/>
<path fill="#00ffb8" d="M0 5h1v1h-1zM0 20h1v1h-1zM0 29h1v1h-1zM0 33h1v1h-1zM1 10h1v2h-1zM1 25h1v1h-1zM1 27h1v1h-1zM1 31h1v1h-1zM1 34h1v1h-1zM2 1h1v1h-1zM2 12h1v1h-1zM2 16h1v1h-1zM2 31h1v1h-1zM2 42h1v1h-1zM3 14h1v2h-1zM3 17h1v2h-1zM3 21h1v1h-1zM3 28h1v1h-1zM3 32h1v2h-1zM4 8h1v1h-1zM4 39h1v1h-1zM5 18h1v1h-1zM5 22h1v1h-1zM5 29h1v1h-1zM5 31h1v2h-1zM5 35h1v3h-1zM5 45h1v1h-1zM6 1h1v1h-1zM6 5h1v1h-1zM6 11h1v1h-1zM6 19h1v1h-1zM6 21h1v1h-1zM6 28h1v1h-1zM6 31h1v1h-1zM6 36h1v1h-1zM6 44h1v1h-1zM6 46h1v1h-1zM7 1h1v1h-1zM7 9h1v2h-1zM7 17h1v1h-1zM7 22h1v1h-1zM7 26h1v1h-1zM7 36h1v2h-1zM7 39h1v1h-1z"/>
<path fill="#00ffa8" d="M0 2h1v2h-1zM0 6h1v1h-1zM0 9h1v1h-1zM0 14h1v1h-1zM0 18h1v1h-1zM0 36h1v1h-1zM0 38h1v1h-1zM0 40h1v1h-1zM0 42h1v1h-1zM1 0h1v1h-1zM1 3h1v1h-1zM1 7h1v1h-1zM1 12h1v1h-1zM1 16h1v1h-1zM1 19h1v2h-1zM1 32h1v2h-1zM1 37h1v2h-1zM2 25h1v1h-1zM2 35h1v1h-1zM3 3h1v1h-1zM3 13h1v1h-1zM3 19h1v2h-1zM3 29h1v2h-1zM3 39h1v3h-1zM4 23h1v1h-1zM4 40h1v1h-1zM4 46h1v1h-1zM5 2h1v2h-1zM5 10h1v2h-1zM5 20h1v1h-1zM5 24h1v1h-1zM5 39h1v2h-1zM5 42h1v1h-1zM6 0h1v1h-1zM6 16h1v1h-1zM6 20h1v1h-1zM6 34h1v2h-1zM6 39h1v1h-1zM6 43h1v1h-1zM7 5h1v1h-1zM7 8h1v1h-1zM7 16h1v1h-1zM7 24h1v1h-1zM7 38h1v1h-1zM7 41h1v1h-1zM7 45h1v1h-1z"/>
<path fill="#00ff98" d="M0 37h1v1h-1zM0 41h1v1h-1zM0 43h1v2h-1zM1 28h1v1h-1zM1 40h1v1h-1zM2 43h1v3h-1zM3 12h1v1h-1zM3 42h1v1h-1zM4 44h1v2h-1zM5 23h1v1h-1zM5 43h1v1h-1zM5 47h1v1h-1zM6 40h1v1h-1zM7 46h1v1h-1z"/>
<path fill="#00ff88" d="M0 46h1v1h-1zM6 42h1v1h-1zM7 47h1v1h-1z"/>
<path fill="#10ff77" d="M0 47h1v1h-1zM4 47h1v1h-1zM5 46h1v1h-1zM6 45h1v1h-1zM6 47h1v1h-1z"/>
<path fill="#31ff67" d="M5 48h1v1h-1zM6 48h1v1h-1z"/>
<path fill="#71ff47" d="M1 42h1v1h-1zM2 46h1v1h-1zM3 43h1v1h-1zM4 48h1v1h-1zM7 48h1v1h-1z"/>
<path fill="#b2ff26" d="M1 43h1v1h-1zM2 47h1v1h-1z"/>
<path fill="#d2ff16" d="M3 44h1v1h-1z"/>
<path fill="#f3ff06" d="M0 48h1v1h-1zM1 44h1v1h-1zM2 48h1v1h-1zM3 45h1v1h-1z"/>
<path fill="#fff500" d="M1 45h1v1h-1zM3 46h1v1h-1z"/>
<path fill="#ffd500" d="M1 46h1v1h-1z"/>
<path fill="#ffc400" d="M3 47h1v1h-1zM5 49h1v1h-1z"/>
<path fill="#ffb400" d="M0 49h1v1h-1zM2 49h1v1h-1zM4 49h1v1h-1zM6 49h1v1h-1zM7 49h1v1h-1z"/>
<path fill="#ffa400" d="M1 47h1v1h-1z"/>
<path fill="#ff8400" d="M3 48h1v1h-1z"/>
<path fill="#ff5300" d="M1 48h1v1h-1zM3 49h1v1h-1z"/>
<path fill="#ff1200" d="M1 49h1v1h-1z"/>
</svg></g>
<rect x="353.0" y="109.7" width="125.30000000000001" height="75.2" fill="none" stroke="#4a6a6a" stroke-width="0.7"/>
<path d="M353.0 112.71h1.5M478.3 112.71h-1.5M353.0 115.72h1.5M478.3 115.72h-1.5M353.0 118.72h1.5M478.3 118.72h-1.5M353.0 121.73h1.5M478.3 121.73h-1.5M353.0 124.74h1.5M478.3 124.74h-1.5M353.0 127.75h1.5M478.3 127.75h-1.5M353.0 130.76h1.5M478.3 130.76h-1.5M353.0 133.76h1.5M478.3 133.76h-1.5M353.0 136.77h1.5M478.3 136.77h-1.5M353.0 139.78h1.5M478.3 139.78h-1.5M353.0 142.79h1.5M478.3 142.79h-1.5M353.0 145.80h1.5M478.3 145.80h-1.5M353.0 148.80h1.5M478.3 148.80h-1.5M353.0 151.81h1.5M478.3 151.81h-1.5M353.0 154.82h1.5M478.3 154.82h-1.5M353.0 157.83h1.5M478.3 157.83h-1.5M353.0 160.84h1.5M478.3 160.84h-1.5M353.0 163.84h1.5M478.3 163.84h-1.5M353.0 166.85h1.5M478.3 166.85h-1.5M353.0 169.86h1.5M478.3 169.86h-1.5M353.0 172.87h1.5M478.3 172.87h-1.5M353.0 175.88h1.5M478.3 175.88h-1.5M353.0 178.88h1.5M478.3 178.88h-1.5M353.0 181.89h1.5M478.3 181.89h-1.5M361.95 109.7v1.5M361.95 184.9v-1.5M370.90 109.7v1.5M370.90 184.9v-1.5M379.85 109.7v1.5M379.85 184.9v-1.5M388.80 109.7v1.5M388.80 184.9v-1.5M397.75 109.7v1.5M397.75 184.9v-1.5M406.70 109.7v1.5M406.70 184.9v-1.5M415.65 109.7v1.5M415.65 184.9v-1.5M424.60 109.7v1.5M424.60 184.9v-1.5M433.55 109.7v1.5M433.55 184.9v-1.5M442.50 109.7v1.5M442.50 184.9v-1.5M451.45 109.7v1.5M451.45 184.9v-1.5M460.40 109.7v1.5M460.40 184.9v-1.5M469.35 109.7v1.5M469.35 184.9v-1.5" stroke="#4a6a6a" stroke-width="0.6" fill="none"/>
<g filter="url(#sb)"><svg x="353.0" y="189.8" width="125.30000000000001" height="75.39999999999998" viewBox="0 0 8 50" preserveAspectRatio="none" shape-rendering="crispEdges">
<path fill="#00b4ff" d="M1 32h1v1h-1zM5 16h1v1h-1z"/>
<path fill="#00c4ff" d="M2 7h1v1h-1z"/>
<path fill="#00d4ff" d="M1 0h1v1h-1zM2 26h1v1h-1zM3 20h1v1h-1zM7 20h1v1h-1z"/>
<path fill="#00e5ff" d="M2 5h1v1h-1zM2 13h1v2h-1zM5 21h1v1h-1z"/>
<path fill="#00f5ff" d="M1 3h1v1h-1zM1 37h1v1h-1zM2 0h1v1h-1zM2 6h1v1h-1zM2 9h1v1h-1zM2 25h1v1h-1zM2 36h1v1h-1zM3 0h1v1h-1zM3 2h1v1h-1zM3 7h1v1h-1zM3 10h1v2h-1zM3 18h1v1h-1zM3 27h1v1h-1zM4 18h1v1h-1zM4 26h1v1h-1zM4 33h1v1h-1zM5 3h1v1h-1zM5 8h1v1h-1zM5 14h1v1h-1zM5 22h1v1h-1zM6 20h1v1h-1zM7 4h1v2h-1zM7 8h1v1h-1zM7 12h1v1h-1z"/>
<path fill="#00fff9" d="M0 5h1v1h-1zM0 10h1v1h-1zM0 15h1v1h-1zM0 27h1v1h-1zM1 14h1v1h-1zM1 18h1v1h-1zM1 24h1v2h-1zM1 34h1v1h-1zM2 1h1v1h-1zM2 4h1v1h-1zM2 8h1v1h-1zM2 11h1v1h-1zM2 20h1v1h-1zM2 31h1v1h-1zM2 43h1v1h-1zM3 16h1v1h-1zM3 19h1v1h-1zM3 22h1v1h-1zM3 30h1v1h-1zM4 4h1v1h-1zM4 6h1v1h-1zM4 9h1v1h-1zM4 14h1v1h-1zM4 22h1v2h-1zM4 25h1v1h-1zM4 28h1v1h-1zM4 32h1v1h-1zM5 6h1v1h-1zM5 9h1v1h-1zM5 12h1v1h-1zM5 23h1v1h-1zM5 26h1v1h-1zM5 31h1v1h-1zM5 42h1v1h-1zM6 2h1v1h-1zM6 9h1v1h-1zM6 13h1v1h-1zM6 16h1v1h-1zM6 23h1v1h-1zM6 35h1v1h-1zM7 1h1v1h-1zM7 10h1v1h-1zM7 16h1v1h-1zM7 30h1v1h-1zM7 32h1v1h-1zM7 34h1v1h-1zM7 36h1v1h-1zM7 39h1v1h-1zM7 43h1v1h-1z"/>
<path fill="#00ffe9" d="M0 3h1v1h-1zM0 18h1v1h-1zM0 22h1v1h-1zM0 26h1v1h-1zM0 36h1v1h-1zM1 5h1v1h-1zM1 8h1v1h-1zM1 12h1v2h-1zM1 15h1v1h-1zM1 31h1v1h-1zM1 35h1v2h-1zM1 38h1v1h-1zM1 45h1v1h-1zM2 44h1v1h-1zM3 13h1v1h-1zM3 26h1v1h-1zM3 39h1v1h-1zM3 44h1v1h-1zM4 7h1v1h-1zM4 10h1v2h-1zM4 17h1v1h-1zM4 21h1v1h-1zM4 29h1v1h-1zM4 42h1v1h-1zM5 4h1v1h-1zM5 7h1v1h-1zM5 18h1v1h-1zM5 47h1v2h-1zM6 0h1v1h-1zM6 3h1v1h-1zM6 5h1v1h-1zM6 10h1v3h-1zM6 22h1v1h-1zM6 32h1v1h-1zM6 41h1v1h-1zM6 43h1v1h-1zM7 3h1v1h-1zM7 6h1v1h-1zM7 11h1v1h-1zM7 15h1v1h-1zM7 21h1v1h-1zM7 23h1v1h-1zM7 46h1v1h-1z"/>
<path fill="#00ffd9" d="M0 1h1v1h-1zM0 16h1v1h-1zM0 43h1v2h-1zM1 1h1v1h-1zM1 6h1v1h-1zM1 21h1v1h-1zM2 12h1v1h-1zM2 32h1v1h-1zM3 36h1v1h-1zM4 19h1v1h-1zM4 27h1v1h-1zM4 30h1v2h-1zM5 15h1v1h-1zM5 17h1v1h-1zM5 25h1v1h-1zM5 28h1v1h-1zM7 42h1v1h-1z"/>
<path fill="#00ffc8" d="M0 2h1v1h-1zM0 32h1v1h-1zM1 17h1v1h-1zM1 29h1v1h-1zM2 2h1v2h-1zM2 18h1v2h-1zM2 24h1v1h-1zM2 30h1v1h-1zM2 34h1v1h-1zM2 39h1v1h-1zM2 41h1v1h-1zM3 6h1v1h-1zM3 14h1v1h-1zM3 25h1v1h-1zM3 29h1v1h-1zM3 32h1v4h-1zM3 38h1v1h-1zM3 45h1v1h-1zM4 13h1v1h-1zM4 16h1v1h-1zM5 13h1v1h-1zM5 32h1v1h-1zM5 34h1v2h-1zM5 38h1v2h-1zM6 25h1v1h-1zM6 30h1v1h-1zM6 37h1v1h-1zM6 46h1v1h-1zM7 0h1v1h-1zM7 14h1v1h-1zM7 25h1v1h-1z"/>
<path fill="#00ffb8" d="M0 6h1v1h-1zM0 9h1v1h-1zM0 11h1v1h-1zM0 13h1v1h-1zM0 21h1v1h-1zM0 24h1v1h-1zM0 33h1v1h-1zM0 41h1v1h-1zM1 7h1v1h-1zM1 10h1v2h-1zM1 16h1v1h-1zM1 19h1v2h-1zM1 22h1v1h-1zM1 39h1v1h-1zM1 41h1v1h-1zM1 43h1v1h-1zM2 10h1v1h-1zM2 15h1v2h-1zM2 21h1v3h-1zM2 27h1v3h-1zM2 33h1v1h-1zM2 37h1v1h-1zM2 42h1v1h-1zM2 45h1v4h-1zM3 1h1v1h-1zM3 4h1v2h-1zM3 8h1v1h-1zM3 12h1v1h-1zM3 17h1v1h-1zM3 23h1v2h-1zM3 28h1v1h-1zM3 31h1v1h-1zM3 37h1v1h-1zM3 41h1v1h-1zM3 47h1v2h-1zM4 1h1v1h-1zM4 3h1v1h-1zM4 5h1v1h-1zM4 8h1v1h-1zM4 15h1v1h-1zM4 35h1v2h-1zM4 38h1v2h-1zM4 41h1v1h-1zM4 45h1v1h-1zM5 0h1v3h-1zM5 5h1v1h-1zM5 10h1v2h-1zM5 19h1v2h-1zM5 24h1v1h-1zM5 27h1v1h-1zM5 29h1v2h-1zM5 36h1v2h-1zM5 41h1v1h-1zM5 43h1v4h-1zM6 4h1v1h-1zM6 6h1v2h-1zM6 14h1v2h-1zM6 17h1v1h-1zM6 19h1v1h-1zM6 21h1v1h-1zM6 26h1v2h-1zM6 29h1v1h-1zM6 31h1v1h-1zM6 38h1v1h-1zM7 9h1v1h-1zM7 13h1v1h-1zM7 19h1v1h-1zM7 24h1v1h-1zM7 27h1v2h-1zM7 31h1v1h-1zM7 33h1v1h-1zM7 35h1v1h-1zM7 38h1v1h-1zM7 47h1v1h-1z"/>
<path fill="#00ffa8" d="M0 0h1v1h-1zM0 4h1v1h-1zM0 7h1v2h-1zM0 12h1v1h-1zM0 14h1v1h-1zM0 17h1v1h-1zM0 19h1v2h-1zM0 23h1v1h-1zM0 28h1v4h-1zM0 34h1v2h-1zM0 37h1v1h-1zM0 39h1v1h-1zM0 47h1v2h-1zM1 2h1v1h-1zM1 4h1v1h-1zM1 9h1v1h-1zM1 23h1v1h-1zM1 28h1v1h-1zM1 44h1v1h-1zM1 47h1v1h-1zM2 17h1v1h-1zM2 35h1v1h-1zM2 38h1v1h-1zM3 3h1v1h-1zM3 9h1v1h-1zM3 15h1v1h-1zM3 21h1v1h-1zM3 42h1v2h-1zM3 46h1v1h-1zM4 0h1v1h-1zM4 2h1v1h-1zM4 12h1v1h-1zM4 20h1v1h-1zM4 24h1v1h-1zM4 34h1v1h-1zM4 37h1v1h-1zM4 44h1v1h-1zM4 46h1v3h-1zM5 33h1v1h-1zM6 1h1v1h-1zM6 8h1v1h-1zM6 18h1v1h-1zM6 24h1v1h-1zM6 28h1v1h-1zM6 33h1v2h-1zM6 36h1v1h-1zM6 39h1v1h-1zM6 42h1v1h-1zM6 44h1v2h-1zM6 47h1v1h-1zM7 2h1v1h-1zM7 7h1v1h-1zM7 17h1v2h-1zM7 22h1v1h-1zM7 26h1v1h-1zM7 29h1v1h-1zM7 37h1v1h-1zM7 41h1v1h-1zM7 44h1v2h-1zM7 48h1v1h-1z"/>
<path fill="#00ff98" d="M0 25h1v1h-1zM0 38h1v1h-1zM0 42h1v1h-1zM0 46h1v1h-1zM0 49h1v1h-1zM1 26h1v2h-1zM1 30h1v1h-1zM1 33h1v1h-1zM1 42h1v1h-1zM1 46h1v1h-1zM1 48h1v2h-1zM2 49h1v1h-1zM3 49h1v1h-1zM4 43h1v1h-1zM4 49h1v1h-1zM6 48h1v2h-1zM7 49h1v1h-1z"/>
<path fill="#00ff88" d="M0 45h1v1h-1z"/>
<path fill="#51ff57" d="M0 40h1v1h-1zM1 40h1v1h-1zM2 40h1v1h-1zM3 40h1v1h-1zM4 40h1v1h-1zM5 40h1v1h-1zM6 40h1v1h-1zM7 40h1v1h-1z"/>
<path fill="#71ff47" d="M5 49h1v1h-1z"/>
</svg></g>
<rect x="353.0" y="189.8" width="125.30000000000001" height="75.39999999999998" fill="none" stroke="#4a6a6a" stroke-width="0.7"/>
<path d="M353.0 192.82h1.5M478.3 192.82h-1.5M353.0 195.83h1.5M478.3 195.83h-1.5M353.0 198.85h1.5M478.3 198.85h-1.5M353.0 201.86h1.5M478.3 201.86h-1.5M353.0 204.88h1.5M478.3 204.88h-1.5M353.0 207.90h1.5M478.3 207.90h-1.5M353.0 210.91h1.5M478.3 210.91h-1.5M353.0 213.93h1.5M478.3 213.93h-1.5M353.0 216.94h1.5M478.3 216.94h-1.5M353.0 219.96h1.5M478.3 219.96h-1.5M353.0 222.98h1.5M478.3 222.98h-1.5M353.0 225.99h1.5M478.3 225.99h-1.5M353.0 229.01h1.5M478.3 229.01h-1.5M353.0 232.02h1.5M478.3 232.02h-1.5M353.0 235.04h1.5M478.3 235.04h-1.5M353.0 238.06h1.5M478.3 238.06h-1.5M353.0 241.07h1.5M478.3 241.07h-1.5M353.0 244.09h1.5M478.3 244.09h-1.5M353.0 247.10h1.5M478.3 247.10h-1.5M353.0 250.12h1.5M478.3 250.12h-1.5M353.0 253.14h1.5M478.3 253.14h-1.5M353.0 256.15h1.5M478.3 256.15h-1.5M353.0 259.17h1.5M478.3 259.17h-1.5M353.0 262.18h1.5M478.3 262.18h-1.5M361.95 189.8v1.5M361.95 265.2v-1.5M370.90 189.8v1.5M370.90 265.2v-1.5M379.85 189.8v1.5M379.85 265.2v-1.5M388.80 189.8v1.5M388.80 265.2v-1.5M397.75 189.8v1.5M397.75 265.2v-1.5M406.70 189.8v1.5M406.70 265.2v-1.5M415.65 189.8v1.5M415.65 265.2v-1.5M424.60 189.8v1.5M424.60 265.2v-1.5M433.55 189.8v1.5M433.55 265.2v-1.5M442.50 189.8v1.5M442.50 265.2v-1.5M451.45 189.8v1.5M451.45 265.2v-1.5M460.40 189.8v1.5M460.40 265.2v-1.5M469.35 189.8v1.5M469.35 265.2v-1.5" stroke="#4a6a6a" stroke-width="0.6" fill="none"/>
<rect x="353.0" y="270.2" width="125.30000000000001" height="75.10000000000002" fill="none" stroke="#6a6a6a" stroke-width="0.7"/>
<path d="M353.0 273.20h1.5M478.3 273.20h-1.5M353.0 276.21h1.5M478.3 276.21h-1.5M353.0 279.21h1.5M478.3 279.21h-1.5M353.0 282.22h1.5M478.3 282.22h-1.5M353.0 285.22h1.5M478.3 285.22h-1.5M353.0 288.22h1.5M478.3 288.22h-1.5M353.0 291.23h1.5M478.3 291.23h-1.5M353.0 294.23h1.5M478.3 294.23h-1.5M353.0 297.24h1.5M478.3 297.24h-1.5M353.0 300.24h1.5M478.3 300.24h-1.5M353.0 303.24h1.5M478.3 303.24h-1.5M353.0 306.25h1.5M478.3 306.25h-1.5M353.0 309.25h1.5M478.3 309.25h-1.5M353.0 312.26h1.5M478.3 312.26h-1.5M353.0 315.26h1.5M478.3 315.26h-1.5M353.0 318.26h1.5M478.3 318.26h-1.5M353.0 321.27h1.5M478.3 321.27h-1.5M353.0 324.27h1.5M478.3 324.27h-1.5M353.0 327.28h1.5M478.3 327.28h-1.5M353.0 330.28h1.5M478.3 330.28h-1.5M353.0 333.28h1.5M478.3 333.28h-1.5M353.0 336.29h1.5M478.3 336.29h-1.5M353.0 339.29h1.5M478.3 339.29h-1.5M353.0 342.30h1.5M478.3 342.30h-1.5M361.95 270.2v1.5M361.95 345.3v-1.5M370.90 270.2v1.5M370.90 345.3v-1.5M379.85 270.2v1.5M379.85 345.3v-1.5M388.80 270.2v1.5M388.80 345.3v-1.5M397.75 270.2v1.5M397.75 345.3v-1.5M406.70 270.2v1.5M406.70 345.3v-1.5M415.65 270.2v1.5M415.65 345.3v-1.5M424.60 270.2v1.5M424.60 345.3v-1.5M433.55 270.2v1.5M433.55 345.3v-1.5M442.50 270.2v1.5M442.50 345.3v-1.5M451.45 270.2v1.5M451.45 345.3v-1.5M460.40 270.2v1.5M460.40 345.3v-1.5M469.35 270.2v1.5M469.35 345.3v-1.5" stroke="#6a6a6a" stroke-width="0.6" fill="none"/>
<rect x="353.0" y="350.7" width="125.30000000000001" height="74.20000000000005" fill="none" stroke="#6a6a6a" stroke-width="0.7"/>
<path d="M353.0 353.67h1.5M478.3 353.67h-1.5M353.0 356.64h1.5M478.3 356.64h-1.5M353.0 359.60h1.5M478.3 359.60h-1.5M353.0 362.57h1.5M478.3 362.57h-1.5M353.0 365.54h1.5M478.3 365.54h-1.5M353.0 368.51h1.5M478.3 368.51h-1.5M353.0 371.48h1.5M478.3 371.48h-1.5M353.0 374.44h1.5M478.3 374.44h-1.5M353.0 377.41h1.5M478.3 377.41h-1.5M353.0 380.38h1.5M478.3 380.38h-1.5M353.0 383.35h1.5M478.3 383.35h-1.5M353.0 386.32h1.5M478.3 386.32h-1.5M353.0 389.28h1.5M478.3 389.28h-1.5M353.0 392.25h1.5M478.3 392.25h-1.5M353.0 395.22h1.5M478.3 395.22h-1.5M353.0 398.19h1.5M478.3 398.19h-1.5M353.0 401.16h1.5M478.3 401.16h-1.5M353.0 404.12h1.5M478.3 404.12h-1.5M353.0 407.09h1.5M478.3 407.09h-1.5M353.0 410.06h1.5M478.3 410.06h-1.5M353.0 413.03h1.5M478.3 413.03h-1.5M353.0 416.00h1.5M478.3 416.00h-1.5M353.0 418.96h1.5M478.3 418.96h-1.5M353.0 421.93h1.5M478.3 421.93h-1.5M361.95 350.7v1.5M361.95 424.90000000000003v-1.5M370.90 350.7v1.5M370.90 424.90000000000003v-1.5M379.85 350.7v1.5M379.85 424.90000000000003v-1.5M388.80 350.7v1.5M388.80 424.90000000000003v-1.5M397.75 350.7v1.5M397.75 424.90000000000003v-1.5M406.70 350.7v1.5M406.70 424.90000000000003v-1.5M415.65 350.7v1.5M415.65 424.90000000000003v-1.5M424.60 350.7v1.5M424.60 424.90000000000003v-1.5M433.55 350.7v1.5M433.55 424.90000000000003v-1.5M442.50 350.7v1.5M442.50 424.90000000000003v-1.5M451.45 350.7v1.5M451.45 424.90000000000003v-1.5M460.40 350.7v1.5M460.40 424.90000000000003v-1.5M469.35 350.7v1.5M469.35 424.90000000000003v-1.5" stroke="#6a6a6a" stroke-width="0.6" fill="none"/>
<rect x="53.00" y="343.00" width="15.71" height="1.50" fill="#2a2aa0"/>
<rect x="68.71" y="342.40" width="15.71" height="1.00" fill="#50c8ff"/>
<rect x="68.71" y="343.40" width="15.71" height="1.10" fill="#3050c0"/>
<rect x="84.42" y="338.30" width="15.71" height="0.80" fill="#f0a8a0"/>
<rect x="84.42" y="341.00" width="15.71" height="3.50" fill="#0838c8"/>
<rect x="100.14" y="338.30" width="15.71" height="0.80" fill="#a0e8ff"/>
<rect x="100.14" y="341.00" width="15.71" height="1.40" fill="#60d0ff"/>
<rect x="100.14" y="342.40" width="15.71" height="2.10" fill="#0064e0"/>
<rect x="115.85" y="342.50" width="15.71" height="2.00" fill="#0a80e0"/>
<rect x="131.56" y="342.50" width="15.71" height="2.00" fill="#30a8f0"/>
<rect x="147.27" y="342.50" width="15.71" height="1.50" fill="#d8a040"/>
<rect x="147.27" y="344.00" width="15.71" height="0.50" fill="#3070c0"/>
<rect x="162.99" y="338.00" width="15.71" height="0.80" fill="#f4f0b0"/>
<rect x="162.99" y="342.50" width="15.71" height="2.00" fill="#2898a8"/>
<rect x="53.00" y="422.30" width="15.71" height="0.60" fill="#b0f0f0"/>
<rect x="53.00" y="422.90" width="15.71" height="1.20" fill="#c05038"/>
<rect x="68.71" y="421.50" width="15.71" height="1.30" fill="#3c8ce6"/>
<rect x="68.71" y="422.80" width="15.71" height="1.30" fill="#f0a828"/>
<rect x="84.42" y="418.30" width="15.71" height="0.90" fill="#70c8ff"/>
<rect x="84.42" y="420.80" width="15.71" height="1.20" fill="#d85028"/>
<rect x="84.42" y="422.00" width="15.71" height="0.80" fill="#3070d0"/>
<rect x="84.42" y="422.80" width="15.71" height="1.30" fill="#40b040"/>
<rect x="100.14" y="418.30" width="15.71" height="0.90" fill="#90f0f0"/>
<rect x="100.14" y="420.80" width="15.71" height="1.40" fill="#1464dc"/>
<rect x="100.14" y="422.20" width="15.71" height="1.90" fill="#20a090"/>
<rect x="115.85" y="422.30" width="15.71" height="1.80" fill="#c8e000"/>
<rect x="131.56" y="422.30" width="15.71" height="1.80" fill="#7070d8"/>
<rect x="147.27" y="422.30" width="15.71" height="1.80" fill="#f09030"/>
<rect x="162.99" y="418.40" width="15.71" height="1.00" fill="#70f0e8"/>
<rect x="162.99" y="420.50" width="15.71" height="1.90" fill="#a0c8ff"/>
<rect x="162.99" y="422.40" width="15.71" height="1.70" fill="#d06040"/>
<rect x="202.20" y="340.00" width="17.90" height="1.50" fill="#98c8ff"/>
<rect x="202.20" y="341.50" width="17.90" height="2.00" fill="#1e1e96"/>
<rect x="202.20" y="343.50" width="17.90" height="1.80" fill="#0050dc"/>
<rect x="220.10" y="341.00" width="17.90" height="1.00" fill="#dc5028"/>
<rect x="220.10" y="342.00" width="17.90" height="1.00" fill="#e0e040"/>
<rect x="220.10" y="343.00" width="17.90" height="2.30" fill="#003cc8"/>
<rect x="238.00" y="342.20" width="17.90" height="1.10" fill="#b45a3c"/>
<rect x="238.00" y="343.30" width="17.90" height="1.20" fill="#28d278"/>
<rect x="238.00" y="344.50" width="17.90" height="0.80" fill="#1830a0"/>
<rect x="255.90" y="332.50" width="17.90" height="1.00" fill="#f5e196"/>
<rect x="255.90" y="336.50" width="17.90" height="1.00" fill="#78c8ff"/>
<rect x="255.90" y="340.50" width="17.90" height="1.10" fill="#0078f0"/>
<rect x="255.90" y="341.60" width="17.90" height="1.20" fill="#00a0c8"/>
<rect x="255.90" y="342.80" width="17.90" height="2.50" fill="#2040a0"/>
<rect x="273.80" y="339.60" width="17.90" height="0.90" fill="#b4f0ff"/>
<rect x="273.80" y="340.50" width="17.90" height="1.10" fill="#30b0f0"/>
<rect x="273.80" y="341.80" width="17.90" height="1.00" fill="#e64614"/>
<rect x="273.80" y="342.80" width="17.90" height="2.50" fill="#001eb4"/>
<rect x="291.70" y="337.50" width="17.90" height="1.50" fill="#0064e6"/>
<rect x="291.70" y="339.40" width="17.90" height="1.60" fill="#3cc8c8"/>
<rect x="291.70" y="341.00" width="17.90" height="4.30" fill="#0a50d0"/>
<rect x="309.60" y="338.50" width="17.90" height="1.50" fill="#6464e6"/>
<rect x="309.60" y="340.00" width="17.90" height="2.00" fill="#1e5ae0"/>
<rect x="309.60" y="342.00" width="17.90" height="3.30" fill="#0a28b0"/>
<rect x="202.20" y="420.00" width="17.90" height="1.00" fill="#fa9664"/>
<rect x="202.20" y="421.50" width="17.90" height="2.00" fill="#28d278"/>
<rect x="202.20" y="423.50" width="17.90" height="1.40" fill="#00aaa0"/>
<rect x="220.10" y="421.00" width="17.90" height="1.50" fill="#f0e600"/>
<rect x="220.10" y="422.50" width="17.90" height="1.10" fill="#5a6ee6"/>
<rect x="220.10" y="423.60" width="17.90" height="1.30" fill="#70a070"/>
<rect x="238.00" y="422.00" width="17.90" height="1.00" fill="#3cdcf0"/>
<rect x="238.00" y="423.00" width="17.90" height="1.90" fill="#1eb496"/>
<rect x="255.90" y="408.50" width="17.90" height="1.00" fill="#faf0c8"/>
<rect x="255.90" y="412.50" width="17.90" height="1.00" fill="#3ce6e6"/>
<rect x="255.90" y="416.00" width="17.90" height="1.00" fill="#fac896"/>
<rect x="255.90" y="421.00" width="17.90" height="1.00" fill="#e68c3c"/>
<rect x="255.90" y="422.00" width="17.90" height="1.50" fill="#6090b0"/>
<rect x="255.90" y="423.50" width="17.90" height="1.40" fill="#40b070"/>
<rect x="273.80" y="419.00" width="17.90" height="1.00" fill="#faebb4"/>
<rect x="273.80" y="420.50" width="17.90" height="0.80" fill="#f0c8a0"/>
<rect x="273.80" y="422.50" width="17.90" height="2.40" fill="#30c060"/>
<rect x="291.70" y="417.40" width="17.90" height="1.10" fill="#b4503c"/>
<rect x="291.70" y="419.00" width="17.90" height="2.00" fill="#3ce6dc"/>
<rect x="291.70" y="421.50" width="17.90" height="1.00" fill="#bee63c"/>
<rect x="291.70" y="422.50" width="17.90" height="1.00" fill="#30b080"/>
<rect x="291.70" y="423.50" width="17.90" height="1.40" fill="#e69628"/>
<rect x="309.60" y="419.00" width="17.90" height="1.50" fill="#64aaf0"/>
<rect x="309.60" y="420.50" width="17.90" height="3.00" fill="#28e6c8"/>
<rect x="309.60" y="423.50" width="17.90" height="1.40" fill="#20b090"/>
<rect x="353.00" y="339.00" width="15.66" height="0.80" fill="#f0c8a0"/>
<rect x="353.00" y="340.00" width="15.66" height="2.50" fill="#c8fafa"/>
<rect x="353.00" y="342.50" width="15.66" height="1.00" fill="#3cdcf0"/>
<rect x="353.00" y="343.50" width="15.66" height="1.80" fill="#14148c"/>
<rect x="368.66" y="334.80" width="15.66" height="1.70" fill="#0050e6"/>
<rect x="368.66" y="336.50" width="15.66" height="1.50" fill="#2896aa"/>
<rect x="368.66" y="338.00" width="15.66" height="1.50" fill="#1e3c78"/>
<rect x="368.66" y="339.50" width="15.66" height="1.50" fill="#1e64e6"/>
<rect x="368.66" y="341.00" width="15.66" height="1.00" fill="#50b090"/>
<rect x="368.66" y="342.00" width="15.66" height="3.30" fill="#140a96"/>
<rect x="384.32" y="340.00" width="15.66" height="1.50" fill="#786ee6"/>
<rect x="384.32" y="341.50" width="15.66" height="3.80" fill="#003ce6"/>
<rect x="399.99" y="333.20" width="15.66" height="0.80" fill="#f0c896"/>
<rect x="399.99" y="334.50" width="15.66" height="1.50" fill="#28a0a0"/>
<rect x="399.99" y="336.30" width="15.66" height="0.70" fill="#f09650"/>
<rect x="399.99" y="337.00" width="15.66" height="3.00" fill="#b4f0f0"/>
<rect x="399.99" y="340.00" width="15.66" height="2.00" fill="#3cc8f0"/>
<rect x="399.99" y="342.00" width="15.66" height="3.30" fill="#0a46dc"/>
<rect x="415.65" y="341.20" width="15.66" height="0.80" fill="#c89650"/>
<rect x="415.65" y="342.00" width="15.66" height="3.30" fill="#003cc8"/>
<rect x="431.31" y="340.50" width="15.66" height="1.00" fill="#64e6fa"/>
<rect x="431.31" y="342.00" width="15.66" height="1.50" fill="#f07820"/>
<rect x="431.31" y="343.50" width="15.66" height="1.80" fill="#0a28b4"/>
<rect x="446.98" y="341.60" width="15.66" height="0.80" fill="#e66440"/>
<rect x="446.98" y="343.00" width="15.66" height="2.30" fill="#0050dc"/>
<rect x="462.64" y="341.50" width="15.66" height="1.00" fill="#c8f0c8"/>
<rect x="462.64" y="343.00" width="15.66" height="2.30" fill="#1428aa"/>
<rect x="353.00" y="418.60" width="15.66" height="1.90" fill="#aaf0f0"/>
<rect x="353.00" y="420.70" width="15.66" height="0.70" fill="#f0bec8"/>
<rect x="353.00" y="421.50" width="15.66" height="1.70" fill="#64dce6"/>
<rect x="353.00" y="423.20" width="15.66" height="1.70" fill="#969650"/>
<rect x="368.66" y="414.80" width="15.66" height="1.20" fill="#3c82c8"/>
<rect x="368.66" y="416.00" width="15.66" height="1.00" fill="#b4dc3c"/>
<rect x="368.66" y="417.00" width="15.66" height="4.00" fill="#28dc78"/>
<rect x="368.66" y="421.00" width="15.66" height="2.00" fill="#3ce6b4"/>
<rect x="368.66" y="423.00" width="15.66" height="1.90" fill="#14b48c"/>
<rect x="384.32" y="417.00" width="15.66" height="1.50" fill="#50e6f0"/>
<rect x="384.32" y="421.00" width="15.66" height="2.00" fill="#3c8ce6"/>
<rect x="384.32" y="423.00" width="15.66" height="1.90" fill="#1e5ac8"/>
<rect x="399.99" y="413.00" width="15.66" height="1.50" fill="#f08c50"/>
<rect x="399.99" y="415.50" width="15.66" height="1.00" fill="#825abe"/>
<rect x="399.99" y="417.00" width="15.66" height="0.80" fill="#f0c8c8"/>
<rect x="399.99" y="418.00" width="15.66" height="3.00" fill="#a0f0e6"/>
<rect x="399.99" y="421.00" width="15.66" height="2.00" fill="#f0dc00"/>
<rect x="399.99" y="423.00" width="15.66" height="1.90" fill="#f05a14"/>
<rect x="415.65" y="421.50" width="15.66" height="1.00" fill="#e6a040"/>
<rect x="415.65" y="422.50" width="15.66" height="1.00" fill="#b4dc3c"/>
<rect x="415.65" y="423.50" width="15.66" height="1.40" fill="#e67828"/>
<rect x="431.31" y="420.60" width="15.66" height="1.00" fill="#c8aaf0"/>
<rect x="431.31" y="421.80" width="15.66" height="3.10" fill="#28d2a0"/>
<rect x="446.98" y="422.30" width="15.66" height="2.60" fill="#f06432"/>
<rect x="462.64" y="422.00" width="15.66" height="2.90" fill="#28aaf0"/>
<text x="65.0" y="50.6" font-size="16" font-weight="bold" fill="#1a1a1a" text-anchor="start">(a)</text>
<text x="65.0" y="131.20000000000002" font-size="16" font-weight="bold" fill="#1a1a1a" text-anchor="start">(b)</text>
<text x="65.0" y="211.3" font-size="16" font-weight="bold" fill="#1a1a1a" text-anchor="start">(c)</text>
<text x="65.0" y="291.7" font-size="16" font-weight="bold" fill="#1a1a1a" text-anchor="start">(d)</text>
<text x="65.0" y="372.2" font-size="16" font-weight="bold" fill="#1a1a1a" text-anchor="start">(e)</text>
<text x="214.2" y="51.400000000000006" font-size="16" font-weight="bold" fill="#1a1a1a" text-anchor="start">(f)</text>
<text x="214.2" y="132.0" font-size="16" font-weight="bold" fill="#1a1a1a" text-anchor="start">(g)</text>
<text x="214.2" y="212.10000000000002" font-size="16" font-weight="bold" fill="#1a1a1a" text-anchor="start">(h)</text>
<text x="214.2" y="292.5" font-size="16" font-weight="bold" fill="#1a1a1a" text-anchor="start">(i)</text>
<text x="214.2" y="373.0" font-size="16" font-weight="bold" fill="#1a1a1a" text-anchor="start">(j)</text>
<text x="365.0" y="51.400000000000006" font-size="16" font-weight="bold" fill="#1a1a1a" text-anchor="start">(k)</text>
<text x="365.0" y="132.0" font-size="16" font-weight="bold" fill="#1a1a1a" text-anchor="start">(l)</text>
<text x="365.0" y="212.10000000000002" font-size="16" font-weight="bold" fill="#1a1a1a" text-anchor="start">(m)</text>
<text x="365.0" y="292.5" font-size="16" font-weight="bold" fill="#1a1a1a" text-anchor="start">(n)</text>
<text x="365.0" y="373.0" font-size="16" font-weight="bold" fill="#1a1a1a" text-anchor="start">(o)</text>
<text x="48.9" y="93.5" font-size="11.1" font-weight="bold" fill="#333" text-anchor="end">1</text>
<text x="48.9" y="78.35" font-size="11.1" font-weight="bold" fill="#333" text-anchor="end">2</text>
<text x="48.9" y="63.2" font-size="11.1" font-weight="bold" fill="#333" text-anchor="end">3</text>
<text x="48.9" y="48.050000000000004" font-size="11.1" font-weight="bold" fill="#333" text-anchor="end">4</text>
<text x="48.9" y="32.9" font-size="11.1" font-weight="bold" fill="#333" text-anchor="end">5</text>
<text x="48.9" y="173.66" font-size="11.1" font-weight="bold" fill="#333" text-anchor="end">1</text>
<text x="48.9" y="158.61999999999998" font-size="11.1" font-weight="bold" fill="#333" text-anchor="end">2</text>
<text x="48.9" y="143.57999999999998" font-size="11.1" font-weight="bold" fill="#333" text-anchor="end">3</text>
<text x="48.9" y="128.54" font-size="11.1" font-weight="bold" fill="#333" text-anchor="end">4</text>
<text x="48.9" y="113.5" font-size="11.1" font-weight="bold" fill="#333" text-anchor="end">5</text>
<text x="48.9" y="253.92" font-size="11.1" font-weight="bold" fill="#333" text-anchor="end">1</text>
<text x="48.9" y="238.83999999999997" font-size="11.1" font-weight="bold" fill="#333" text-anchor="end">2</text>
<text x="48.9" y="223.76" font-size="11.1" font-weight="bold" fill="#333" text-anchor="end">3</text>
<text x="48.9" y="208.67999999999998" font-size="11.1" font-weight="bold" fill="#333" text-anchor="end">4</text>
<text x="48.9" y="193.6" font-size="11.1" font-weight="bold" fill="#333" text-anchor="end">5</text>
<text x="48.9" y="334.08000000000004" font-size="11.1" font-weight="bold" fill="#333" text-anchor="end">1</text>
<text x="48.9" y="319.06" font-size="11.1" font-weight="bold" fill="#333" text-anchor="end">2</text>
<text x="48.9" y="304.04" font-size="11.1" font-weight="bold" fill="#333" text-anchor="end">3</text>
<text x="48.9" y="289.02" font-size="11.1" font-weight="bold" fill="#333" text-anchor="end">4</text>
<text x="48.9" y="274.0" font-size="11.1" font-weight="bold" fill="#333" text-anchor="end">5</text>
<text x="48.9" y="413.86" font-size="11.1" font-weight="bold" fill="#333" text-anchor="end">1</text>
<text x="48.9" y="399.02000000000004" font-size="11.1" font-weight="bold" fill="#333" text-anchor="end">2</text>
<text x="48.9" y="384.18" font-size="11.1" font-weight="bold" fill="#333" text-anchor="end">3</text>
<text x="48.9" y="369.34000000000003" font-size="11.1" font-weight="bold" fill="#333" text-anchor="end">4</text>
<text x="48.9" y="354.5" font-size="11.1" font-weight="bold" fill="#333" text-anchor="end">5</text>
<text x="198.1" y="94.3" font-size="11.1" font-weight="bold" fill="#333" text-anchor="end">1</text>
<text x="198.1" y="79.15" font-size="11.1" font-weight="bold" fill="#333" text-anchor="end">2</text>
<text x="198.1" y="64.0" font-size="11.1" font-weight="bold" fill="#333" text-anchor="end">3</text>
<text x="198.1" y="48.85" font-size="11.1" font-weight="bold" fill="#333" text-anchor="end">4</text>
<text x="198.1" y="33.7" font-size="11.1" font-weight="bold" fill="#333" text-anchor="end">5</text>
<text x="198.1" y="174.46" font-size="11.1" font-weight="bold" fill="#333" text-anchor="end">1</text>
<text x="198.1" y="159.42" font-size="11.1" font-weight="bold" fill="#333" text-anchor="end">2</text>
<text x="198.1" y="144.38" font-size="11.1" font-weight="bold" fill="#333" text-anchor="end">3</text>
<text x="198.1" y="129.34" font-size="11.1" font-weight="bold" fill="#333" text-anchor="end">4</text>
<text x="198.1" y="114.3" font-size="11.1" font-weight="bold" fill="#333" text-anchor="end">5</text>
<text x="198.1" y="254.72" font-size="11.1" font-weight="bold" fill="#333" text-anchor="end">1</text>
<text x="198.1" y="239.64" font-size="11.1" font-weight="bold" fill="#333" text-anchor="end">2</text>
<text x="198.1" y="224.56" font-size="11.1" font-weight="bold" fill="#333" text-anchor="end">3</text>
<text x="198.1" y="209.48" font-size="11.1" font-weight="bold" fill="#333" text-anchor="end">4</text>
<text x="198.1" y="194.4" font-size="11.1" font-weight="bold" fill="#333" text-anchor="end">5</text>
<text x="198.1" y="334.88000000000005" font-size="11.1" font-weight="bold" fill="#333" text-anchor="end">1</text>
<text x="198.1" y="319.86" font-size="11.1" font-weight="bold" fill="#333" text-anchor="end">2</text>
<text x="198.1" y="304.84000000000003" font-size="11.1" font-weight="bold" fill="#333" text-anchor="end">3</text>
<text x="198.1" y="289.82" font-size="11.1" font-weight="bold" fill="#333" text-anchor="end">4</text>
<text x="198.1" y="274.8" font-size="11.1" font-weight="bold" fill="#333" text-anchor="end">5</text>
<text x="198.1" y="414.66" font-size="11.1" font-weight="bold" fill="#333" text-anchor="end">1</text>
<text x="198.1" y="399.82000000000005" font-size="11.1" font-weight="bold" fill="#333" text-anchor="end">2</text>
<text x="198.1" y="384.98" font-size="11.1" font-weight="bold" fill="#333" text-anchor="end">3</text>
<text x="198.1" y="370.14000000000004" font-size="11.1" font-weight="bold" fill="#333" text-anchor="end">4</text>
<text x="198.1" y="355.3" font-size="11.1" font-weight="bold" fill="#333" text-anchor="end">5</text>
<text x="348.9" y="94.3" font-size="11.1" font-weight="bold" fill="#333" text-anchor="end">1</text>
<text x="348.9" y="79.15" font-size="11.1" font-weight="bold" fill="#333" text-anchor="end">2</text>
<text x="348.9" y="64.0" font-size="11.1" font-weight="bold" fill="#333" text-anchor="end">3</text>
<text x="348.9" y="48.85" font-size="11.1" font-weight="bold" fill="#333" text-anchor="end">4</text>
<text x="348.9" y="33.7" font-size="11.1" font-weight="bold" fill="#333" text-anchor="end">5</text>
<text x="348.9" y="174.46" font-size="11.1" font-weight="bold" fill="#333" text-anchor="end">1</text>
<text x="348.9" y="159.42" font-size="11.1" font-weight="bold" fill="#333" text-anchor="end">2</text>
<text x="348.9" y="144.38" font-size="11.1" font-weight="bold" fill="#333" text-anchor="end">3</text>
<text x="348.9" y="129.34" font-size="11.1" font-weight="bold" fill="#333" text-anchor="end">4</text>
<text x="348.9" y="114.3" font-size="11.1" font-weight="bold" fill="#333" text-anchor="end">5</text>
<text x="348.9" y="254.72" font-size="11.1" font-weight="bold" fill="#333" text-anchor="end">1</text>
<text x="348.9" y="239.64" font-size="11.1" font-weight="bold" fill="#333" text-anchor="end">2</text>
<text x="348.9" y="224.56" font-size="11.1" font-weight="bold" fill="#333" text-anchor="end">3</text>
<text x="348.9" y="209.48" font-size="11.1" font-weight="bold" fill="#333" text-anchor="end">4</text>
<text x="348.9" y="194.4" font-size="11.1" font-weight="bold" fill="#333" text-anchor="end">5</text>
<text x="348.9" y="334.88000000000005" font-size="11.1" font-weight="bold" fill="#333" text-anchor="end">1</text>
<text x="348.9" y="319.86" font-size="11.1" font-weight="bold" fill="#333" text-anchor="end">2</text>
<text x="348.9" y="304.84000000000003" font-size="11.1" font-weight="bold" fill="#333" text-anchor="end">3</text>
<text x="348.9" y="289.82" font-size="11.1" font-weight="bold" fill="#333" text-anchor="end">4</text>
<text x="348.9" y="274.8" font-size="11.1" font-weight="bold" fill="#333" text-anchor="end">5</text>
<text x="348.9" y="414.66" font-size="11.1" font-weight="bold" fill="#333" text-anchor="end">1</text>
<text x="348.9" y="399.82000000000005" font-size="11.1" font-weight="bold" fill="#333" text-anchor="end">2</text>
<text x="348.9" y="384.98" font-size="11.1" font-weight="bold" fill="#333" text-anchor="end">3</text>
<text x="348.9" y="370.14000000000004" font-size="11.1" font-weight="bold" fill="#333" text-anchor="end">4</text>
<text x="348.9" y="355.3" font-size="11.1" font-weight="bold" fill="#333" text-anchor="end">5</text>
<polygon points="115.90,98.55 117.28,102.25 121.23,102.42 118.14,104.88 119.19,108.68 115.90,106.50 112.61,108.68 113.66,104.88 110.57,102.42 114.52,102.25" fill="#0000ff"/>
<polygon points="115.90,178.60 117.28,182.30 121.23,182.47 118.14,184.93 119.19,188.73 115.90,186.55 112.61,188.73 113.66,184.93 110.57,182.47 114.52,182.30" fill="#0000ff"/>
<polygon points="115.90,258.90 117.28,262.60 121.23,262.77 118.14,265.23 119.19,269.03 115.90,266.85 112.61,269.03 113.66,265.23 110.57,262.77 114.52,262.60" fill="#0000ff"/>
<polygon points="115.90,339.00 117.28,342.70 121.23,342.87 118.14,345.33 119.19,349.13 115.90,346.95 112.61,349.13 113.66,345.33 110.57,342.87 114.52,342.70" fill="#0000ff"/>
<polygon points="115.90,418.60 117.28,422.30 121.23,422.47 118.14,424.93 119.19,428.73 115.90,426.55 112.61,428.73 113.66,424.93 110.57,422.47 114.52,422.30" fill="#0000ff"/>
<polygon points="274.10,99.35 275.48,103.05 279.43,103.22 276.34,105.68 277.39,109.48 274.10,107.30 270.81,109.48 271.86,105.68 268.77,103.22 272.72,103.05" fill="#0000ff"/>
<polygon points="274.10,179.40 275.48,183.10 279.43,183.27 276.34,185.73 277.39,189.53 274.10,187.35 270.81,189.53 271.86,185.73 268.77,183.27 272.72,183.10" fill="#0000ff"/>
<polygon points="274.10,259.70 275.48,263.40 279.43,263.57 276.34,266.03 277.39,269.83 274.10,267.65 270.81,269.83 271.86,266.03 268.77,263.57 272.72,263.40" fill="#0000ff"/>
<polygon points="274.10,339.80 275.48,343.50 279.43,343.67 276.34,346.13 277.39,349.93 274.10,347.75 270.81,349.93 271.86,346.13 268.77,343.67 272.72,343.50" fill="#0000ff"/>
<polygon points="274.10,419.40 275.48,423.10 279.43,423.27 276.34,425.73 277.39,429.53 274.10,427.35 270.81,429.53 271.86,425.73 268.77,423.27 272.72,423.10" fill="#0000ff"/>
<polygon points="416.00,99.35 417.38,103.05 421.33,103.22 418.24,105.68 419.29,109.48 416.00,107.30 412.71,109.48 413.76,105.68 410.67,103.22 414.62,103.05" fill="#0000ff"/>
<polygon points="416.00,179.40 417.38,183.10 421.33,183.27 418.24,185.73 419.29,189.53 416.00,187.35 412.71,189.53 413.76,185.73 410.67,183.27 414.62,183.10" fill="#0000ff"/>
<polygon points="416.00,259.70 417.38,263.40 421.33,263.57 418.24,266.03 419.29,269.83 416.00,267.65 412.71,269.83 413.76,266.03 410.67,263.57 414.62,263.40" fill="#0000ff"/>
<polygon points="416.00,339.80 417.38,343.50 421.33,343.67 418.24,346.13 419.29,349.93 416.00,347.75 412.71,349.93 413.76,346.13 410.67,343.67 414.62,343.50" fill="#0000ff"/>
<polygon points="416.00,419.40 417.38,423.10 421.33,423.27 418.24,425.73 419.29,429.53 416.00,427.35 412.71,429.53 413.76,425.73 410.67,423.27 414.62,423.10" fill="#0000ff"/>
<text x="94.0" y="18.3" font-size="14.6" font-weight="bold" fill="#111" text-anchor="start" textLength="51.5">Day −8</text>
<text x="242.4" y="18.3" font-size="14.6" font-weight="bold" fill="#111" text-anchor="start" textLength="51.5">Day −3</text>
<text x="395.2" y="18.3" font-size="14.6" font-weight="bold" fill="#111" text-anchor="start" textLength="51.5">Day −1</text>
<text x="22.3" y="66.175" font-size="11" font-weight="bold" fill="#333" text-anchor="middle" transform="rotate(-90 22.3 66.175)"><tspan font-style="italic">δ</tspan>Br</text>
<text x="35.8" y="66.175" font-size="11.8" font-weight="bold" fill="#333" text-anchor="middle" transform="rotate(-90 35.8 66.175)">f (Hz)</text>
<text x="22.3" y="146.5" font-size="11" font-weight="bold" fill="#333" text-anchor="middle" transform="rotate(-90 22.3 146.5)"><tspan font-style="italic">δ</tspan>Ba</text>
<text x="35.8" y="146.5" font-size="11.8" font-weight="bold" fill="#333" text-anchor="middle" transform="rotate(-90 35.8 146.5)">f (Hz)</text>
<text x="22.3" y="226.7" font-size="11" font-weight="bold" fill="#333" text-anchor="middle" transform="rotate(-90 22.3 226.7)"><tspan font-style="italic">δ</tspan>Bp</text>
<text x="35.8" y="226.7" font-size="11.8" font-weight="bold" fill="#333" text-anchor="middle" transform="rotate(-90 35.8 226.7)">f (Hz)</text>
<text x="35.8" y="306.95" font-size="11.8" font-weight="bold" fill="#333" text-anchor="middle" transform="rotate(-90 35.8 306.95)">f (Hz)</text>
<text x="35.8" y="387.0" font-size="11.8" font-weight="bold" fill="#333" text-anchor="middle" transform="rotate(-90 35.8 387.0)">f (Hz)</text>
<defs><linearGradient id="jet" x1="0" y1="1" x2="0" y2="0"><stop offset="0.0000" stop-color="#000080"/><stop offset="0.0312" stop-color="#00009f"/><stop offset="0.0625" stop-color="#0000bf"/><stop offset="0.0938" stop-color="#0000df"/><stop offset="0.1250" stop-color="#0000ff"/><stop offset="0.1562" stop-color="#0020ff"/><stop offset="0.1875" stop-color="#0040ff"/><stop offset="0.2188" stop-color="#0060ff"/><stop offset="0.2500" stop-color="#0080ff"/><stop offset="0.2812" stop-color="#009fff"/><stop offset="0.3125" stop-color="#00bfff"/><stop offset="0.3438" stop-color="#00dfff"/><stop offset="0.3750" stop-color="#00ffff"/><stop offset="0.4062" stop-color="#00ffdf"/><stop offset="0.4375" stop-color="#00ffbf"/><stop offset="0.4688" stop-color="#00ff9f"/><stop offset="0.5000" stop-color="#00ff80"/><stop offset="0.5312" stop-color="#40ff60"/><stop offset="0.5625" stop-color="#80ff40"/><stop offset="0.5938" stop-color="#bfff20"/><stop offset="0.6250" stop-color="#ffff00"/><stop offset="0.6562" stop-color="#ffdf00"/><stop offset="0.6875" stop-color="#ffbf00"/><stop offset="0.7188" stop-color="#ff9f00"/><stop offset="0.7500" stop-color="#ff8000"/><stop offset="0.7812" stop-color="#ff6000"/><stop offset="0.8125" stop-color="#ff4000"/><stop offset="0.8438" stop-color="#ff2000"/><stop offset="0.8750" stop-color="#ff0000"/><stop offset="0.9062" stop-color="#df0000"/><stop offset="0.9375" stop-color="#bf0000"/><stop offset="0.9688" stop-color="#9f0000"/><stop offset="1.0000" stop-color="#800000"/></linearGradient></defs>
<rect x="487.4" y="29.60" width="17.50" height="75.25" fill="url(#jet)" stroke="#555" stroke-width="0.5"/>
<text x="509.5" y="42.29554455445545" font-size="10.5" font-weight="bold" fill="#262626" text-anchor="start">0</text>
<text x="509.5" y="57.19653465346535" font-size="10.5" font-weight="bold" fill="#262626" text-anchor="start">−2</text>
<text x="509.5" y="72.09752475247525" font-size="10.5" font-weight="bold" fill="#262626" text-anchor="start">−4</text>
<text x="509.5" y="86.99851485148514" font-size="10.5" font-weight="bold" fill="#262626" text-anchor="start">−6</text>
<text x="509.5" y="101.89950495049504" font-size="10.5" font-weight="bold" fill="#262626" text-anchor="start">−8</text>
<rect x="487.4" y="110.20" width="17.50" height="74.70" fill="url(#jet)" stroke="#555" stroke-width="0.5"/>
<text x="509.5" y="122.83564356435645" font-size="10.5" font-weight="bold" fill="#262626" text-anchor="start">0</text>
<text x="509.5" y="137.62772277227722" font-size="10.5" font-weight="bold" fill="#262626" text-anchor="start">−2</text>
<text x="509.5" y="152.41980198019803" font-size="10.5" font-weight="bold" fill="#262626" text-anchor="start">−4</text>
<text x="509.5" y="167.2118811881188" font-size="10.5" font-weight="bold" fill="#262626" text-anchor="start">−6</text>
<text x="509.5" y="182.00396039603962" font-size="10.5" font-weight="bold" fill="#262626" text-anchor="start">−8</text>
<rect x="487.4" y="190.30" width="17.50" height="74.90" fill="url(#jet)" stroke="#555" stroke-width="0.5"/>
<text x="509.5" y="202.95742574257426" font-size="10.5" font-weight="bold" fill="#262626" text-anchor="start">0</text>
<text x="509.5" y="217.7891089108911" font-size="10.5" font-weight="bold" fill="#262626" text-anchor="start">−2</text>
<text x="509.5" y="232.62079207920792" font-size="10.5" font-weight="bold" fill="#262626" text-anchor="start">−4</text>
<text x="509.5" y="247.45247524752475" font-size="10.5" font-weight="bold" fill="#262626" text-anchor="start">−6</text>
<text x="509.5" y="262.2841584158416" font-size="10.5" font-weight="bold" fill="#262626" text-anchor="start">−8</text>
<rect x="487.4" y="270.70" width="17.50" height="74.60" fill="url(#jet)" stroke="#555" stroke-width="0.5"/>
<text x="509.5" y="275.2" font-size="10.5" font-weight="bold" fill="#262626" text-anchor="start">90</text>
<text x="509.5" y="300.06666666666666" font-size="10.5" font-weight="bold" fill="#262626" text-anchor="start">60</text>
<text x="509.5" y="324.93333333333334" font-size="10.5" font-weight="bold" fill="#262626" text-anchor="start">30</text>
<text x="509.5" y="349.8" font-size="10.5" font-weight="bold" fill="#262626" text-anchor="start">0</text>
<rect x="487.4" y="351.20" width="17.50" height="73.70" fill="url(#jet)" stroke="#555" stroke-width="0.5"/>
<text x="509.5" y="369.51875" font-size="10.5" font-weight="bold" fill="#262626" text-anchor="start">0.5</text>
<text x="509.5" y="392.55" font-size="10.5" font-weight="bold" fill="#262626" text-anchor="start">0</text>
<text x="509.5" y="415.58125" font-size="10.5" font-weight="bold" fill="#262626" text-anchor="start">−0.5</text>
<text x="536.0" y="146.8" font-size="11" font-weight="bold" fill="#262626" text-anchor="middle" transform="rotate(-90 536.0 146.8)">log10(nT<tspan font-size="7" dy="-4">2</tspan><tspan dy="4">•Hz</tspan><tspan font-size="7" dy="-4">−1</tspan><tspan dy="4">)</tspan></text>
<text x="536.6" y="307.8" font-size="11" font-weight="bold" fill="#262626" text-anchor="middle" transform="rotate(-90 536.6 307.8)">Normal Angle( °)</text>
<text x="541.5" y="387.5" font-size="10.5" font-weight="bold" fill="#262626" text-anchor="middle" transform="rotate(-90 541.5 387.5)">Ellipticity</text>
<text x="19.6" y="436.0" font-size="12" font-weight="bold" fill="#1a1a1a" text-anchor="middle">UT</text>
<text x="38.2" y="436.0" font-size="12" font-weight="bold" fill="#1a1a1a" text-anchor="start">23:50</text>
<text x="83.0" y="436.0" font-size="12" font-weight="bold" fill="#1a1a1a" text-anchor="start">23:52</text>
<text x="127.6" y="436.0" font-size="12" font-weight="bold" fill="#1a1a1a" text-anchor="start">23:54</text>
<text x="187.3" y="436.0" font-size="12" font-weight="bold" fill="#1a1a1a" text-anchor="start">00:07</text>
<text x="238.2" y="436.0" font-size="12" font-weight="bold" fill="#1a1a1a" text-anchor="start">00:09</text>
<text x="290.0" y="436.0" font-size="12" font-weight="bold" fill="#1a1a1a" text-anchor="start">00:11</text>
<text x="338.1" y="436.0" font-size="12" font-weight="bold" fill="#1a1a1a" text-anchor="start">23:08</text>
<text x="383.2" y="436.0" font-size="12" font-weight="bold" fill="#1a1a1a" text-anchor="start">23:10</text>
<text x="427.5" y="436.0" font-size="12" font-weight="bold" fill="#1a1a1a" text-anchor="start">23:12</text>
<text x="19.6" y="450.7" font-size="12" font-weight="bold" fill="#1a1a1a" text-anchor="middle">Lat</text>
<text x="38.2" y="450.7" font-size="12" font-weight="bold" fill="#1a1a1a" text-anchor="start">48.60</text>
<text x="83.0" y="450.7" font-size="12" font-weight="bold" fill="#1a1a1a" text-anchor="start">40.61</text>
<text x="127.6" y="450.7" font-size="12" font-weight="bold" fill="#1a1a1a" text-anchor="start">32.62</text>
<text x="187.3" y="450.7" font-size="12" font-weight="bold" fill="#1a1a1a" text-anchor="start">47.44</text>
<text x="238.2" y="450.7" font-size="12" font-weight="bold" fill="#1a1a1a" text-anchor="start">39.45</text>
<text x="290.0" y="450.7" font-size="12" font-weight="bold" fill="#1a1a1a" text-anchor="start">31.46</text>
<text x="338.1" y="450.7" font-size="12" font-weight="bold" fill="#1a1a1a" text-anchor="start">48.60</text>
<text x="383.2" y="450.7" font-size="12" font-weight="bold" fill="#1a1a1a" text-anchor="start">40.61</text>
<text x="427.5" y="450.7" font-size="12" font-weight="bold" fill="#1a1a1a" text-anchor="start">32.62</text>
<text x="19.6" y="465.4" font-size="12" font-weight="bold" fill="#1a1a1a" text-anchor="middle">Lon</text>
<text x="38.2" y="465.4" font-size="12" font-weight="bold" fill="#1a1a1a" text-anchor="start">29.44</text>
<text x="83.0" y="465.4" font-size="12" font-weight="bold" fill="#1a1a1a" text-anchor="start">29.54</text>
<text x="127.6" y="465.4" font-size="12" font-weight="bold" fill="#1a1a1a" text-anchor="start">29.50</text>
<text x="187.3" y="465.4" font-size="12" font-weight="bold" fill="#1a1a1a" text-anchor="start">20.29</text>
<text x="238.2" y="465.4" font-size="12" font-weight="bold" fill="#1a1a1a" text-anchor="start">20.37</text>
<text x="290.0" y="465.4" font-size="12" font-weight="bold" fill="#1a1a1a" text-anchor="start">20.31</text>
<text x="338.1" y="465.4" font-size="12" font-weight="bold" fill="#1a1a1a" text-anchor="start">31.21</text>
<text x="383.2" y="465.4" font-size="12" font-weight="bold" fill="#1a1a1a" text-anchor="start">31.31</text>
<text x="427.5" y="465.4" font-size="12" font-weight="bold" fill="#1a1a1a" text-anchor="start">31.27</text>
<text x="19.6" y="480.1" font-size="12" font-weight="bold" fill="#1a1a1a" text-anchor="middle">MLat</text>
<text x="38.2" y="480.1" font-size="12" font-weight="bold" fill="#1a1a1a" text-anchor="start">43.82</text>
<text x="83.0" y="480.1" font-size="12" font-weight="bold" fill="#1a1a1a" text-anchor="start">35.03</text>
<text x="127.6" y="480.1" font-size="12" font-weight="bold" fill="#1a1a1a" text-anchor="start">26.07</text>
<text x="187.3" y="480.1" font-size="12" font-weight="bold" fill="#1a1a1a" text-anchor="start">42.52</text>
<text x="238.2" y="480.1" font-size="12" font-weight="bold" fill="#1a1a1a" text-anchor="start">33.42</text>
<text x="290.0" y="480.1" font-size="12" font-weight="bold" fill="#1a1a1a" text-anchor="start">24.20</text>
<text x="338.1" y="480.1" font-size="12" font-weight="bold" fill="#1a1a1a" text-anchor="start">43.84</text>
<text x="383.2" y="480.1" font-size="12" font-weight="bold" fill="#1a1a1a" text-anchor="start">35.09</text>
<text x="427.5" y="480.1" font-size="12" font-weight="bold" fill="#1a1a1a" text-anchor="start">26.19</text>
</svg>
</body></html>
